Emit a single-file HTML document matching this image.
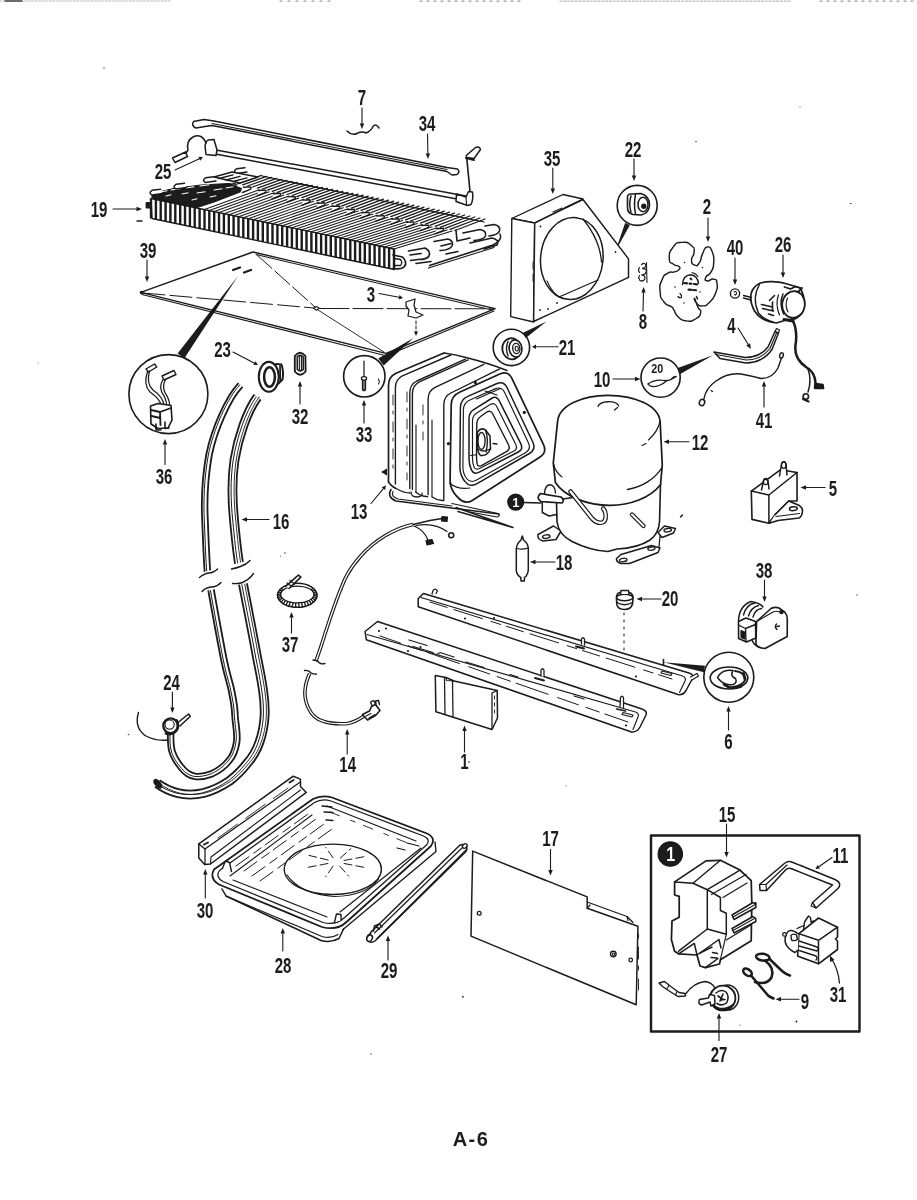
<!DOCTYPE html>
<html><head><meta charset="utf-8"><title>A-6</title>
<style>
html,body{margin:0;padding:0;background:#fff;}
body{width:917px;height:1200px;overflow:hidden;font-family:"Liberation Sans",sans-serif;}
svg{display:block;}
text{font-family:"Liberation Sans",sans-serif;}
</style></head><body>
<svg width="917" height="1200" viewBox="0 0 917 1200" stroke-linecap="round" stroke-linejoin="round">
<defs><filter id="soft" x="0" y="0" width="917" height="1200" filterUnits="userSpaceOnUse"><feGaussianBlur stdDeviation="0.38"/></filter></defs>
<rect width="917" height="1200" fill="#ffffff"/>
<g filter="url(#soft)">
<line x1="0" y1="1.0" x2="170" y2="1.0" stroke="#bbb" stroke-width="1.1" stroke-dasharray="2 1.5"/>
<line x1="5" y1="1" x2="22" y2="1" stroke="#444" stroke-width="1.4"/>
<line x1="280" y1="1.2" x2="330" y2="1.2" stroke="#999" stroke-width="1.2" stroke-dasharray="2 6"/>
<line x1="420" y1="1.2" x2="520" y2="1.2" stroke="#999" stroke-width="1.2" stroke-dasharray="2 5"/>
<line x1="560" y1="1.2" x2="790" y2="1.2" stroke="#bbb" stroke-width="1.2" stroke-dasharray="2 1.8"/>
<line x1="820" y1="1.2" x2="917" y2="1.2" stroke="#999" stroke-width="1.2" stroke-dasharray="2 5"/>
<text transform="translate(362.0,105.3) scale(0.7,1)" text-anchor="middle" font-size="21.5" font-weight="bold" fill="#1a1a1a">7</text>
<line x1="362.0" y1="108.0" x2="362.0" y2="123.5" stroke="#1a1a1a" stroke-width="1.1"/>
<polygon points="362.0,129.0 359.8,123.5 364.2,123.5" fill="#1a1a1a"/>
<text transform="translate(427.0,131.3) scale(0.7,1)" text-anchor="middle" font-size="21.5" font-weight="bold" fill="#1a1a1a">34</text>
<line x1="427.5" y1="134.0" x2="427.9" y2="153.5" stroke="#1a1a1a" stroke-width="1.1"/>
<polygon points="428.0,159.0 425.7,153.5 430.1,153.5" fill="#1a1a1a"/>
<text transform="translate(163.0,179.3) scale(0.7,1)" text-anchor="middle" font-size="21.5" font-weight="bold" fill="#1a1a1a">25</text>
<line x1="175.0" y1="170.0" x2="199.4" y2="158.7" stroke="#1a1a1a" stroke-width="1.1"/>
<polygon points="203.0,157.0 200.3,160.7 198.4,156.7" fill="#1a1a1a"/>
<text transform="translate(99.0,217.3) scale(0.7,1)" text-anchor="middle" font-size="21.5" font-weight="bold" fill="#1a1a1a">19</text>
<line x1="113.0" y1="209.0" x2="136.5" y2="209.0" stroke="#1a1a1a" stroke-width="1.1"/>
<polygon points="142.0,209.0 136.5,211.2 136.5,206.8" fill="#1a1a1a"/>
<line x1="137" y1="221" x2="142" y2="221" stroke="#1a1a1a" stroke-width="1.4"/>
<text transform="translate(148.0,257.8) scale(0.7,1)" text-anchor="middle" font-size="21.5" font-weight="bold" fill="#1a1a1a">39</text>
<line x1="147.0" y1="260.0" x2="147.0" y2="276.5" stroke="#1a1a1a" stroke-width="1.1"/>
<polygon points="147.0,282.0 144.8,276.5 149.2,276.5" fill="#1a1a1a"/>
<text transform="translate(552.0,165.8) scale(0.7,1)" text-anchor="middle" font-size="21.5" font-weight="bold" fill="#1a1a1a">35</text>
<line x1="552.8" y1="168.0" x2="552.8" y2="188.5" stroke="#1a1a1a" stroke-width="1.1"/>
<polygon points="552.8,194.0 550.6,188.5 555.0,188.5" fill="#1a1a1a"/>
<text transform="translate(633.0,157.3) scale(0.7,1)" text-anchor="middle" font-size="21.5" font-weight="bold" fill="#1a1a1a">22</text>
<line x1="634.0" y1="159.0" x2="634.0" y2="175.5" stroke="#1a1a1a" stroke-width="1.1"/>
<polygon points="634.0,181.0 631.8,175.5 636.2,175.5" fill="#1a1a1a"/>
<text transform="translate(707.0,214.3) scale(0.7,1)" text-anchor="middle" font-size="21.5" font-weight="bold" fill="#1a1a1a">2</text>
<line x1="708.0" y1="218.0" x2="708.0" y2="236.5" stroke="#1a1a1a" stroke-width="1.1"/>
<polygon points="708.0,242.0 705.8,236.5 710.2,236.5" fill="#1a1a1a"/>
<text transform="translate(735.0,254.8) scale(0.7,1)" text-anchor="middle" font-size="21.5" font-weight="bold" fill="#1a1a1a">40</text>
<line x1="735.0" y1="258.0" x2="735.0" y2="279.5" stroke="#1a1a1a" stroke-width="1.1"/>
<polygon points="735.0,285.0 732.8,279.5 737.2,279.5" fill="#1a1a1a"/>
<text transform="translate(783.0,252.3) scale(0.7,1)" text-anchor="middle" font-size="21.5" font-weight="bold" fill="#1a1a1a">26</text>
<line x1="783.0" y1="255.0" x2="783.0" y2="272.5" stroke="#1a1a1a" stroke-width="1.1"/>
<polygon points="783.0,278.0 780.8,272.5 785.2,272.5" fill="#1a1a1a"/>
<text transform="translate(643.0,329.3) scale(0.7,1)" text-anchor="middle" font-size="21.5" font-weight="bold" fill="#1a1a1a">8</text>
<line x1="643.0" y1="311.0" x2="643.5" y2="292.5" stroke="#1a1a1a" stroke-width="1.1"/>
<polygon points="643.6,287.0 645.7,292.6 641.3,292.4" fill="#1a1a1a"/>
<text transform="translate(567.0,355.3) scale(0.7,1)" text-anchor="middle" font-size="21.5" font-weight="bold" fill="#1a1a1a">21</text>
<line x1="558.0" y1="346.8" x2="536.0" y2="346.8" stroke="#1a1a1a" stroke-width="1.1" stroke-dasharray="3 1"/>
<polygon points="532.0,346.8 536.0,344.6 536.0,349.0" fill="#1a1a1a"/>
<text transform="translate(731.5,333.3) scale(0.7,1)" text-anchor="middle" font-size="21.5" font-weight="bold" fill="#1a1a1a">4</text>
<line x1="738.0" y1="328.0" x2="748.1" y2="344.3" stroke="#1a1a1a" stroke-width="1.1"/>
<polygon points="751.0,349.0 746.2,345.5 750.0,343.2" fill="#1a1a1a"/>
<text transform="translate(602.0,387.3) scale(0.7,1)" text-anchor="middle" font-size="21.5" font-weight="bold" fill="#1a1a1a">10</text>
<line x1="613.0" y1="379.0" x2="635.0" y2="379.0" stroke="#1a1a1a" stroke-width="1.1"/>
<polygon points="640.5,379.0 635.0,381.2 635.0,376.8" fill="#1a1a1a"/>
<text transform="translate(764.0,427.8) scale(0.7,1)" text-anchor="middle" font-size="21.5" font-weight="bold" fill="#1a1a1a">41</text>
<line x1="764.0" y1="407.0" x2="764.0" y2="386.5" stroke="#1a1a1a" stroke-width="1.1"/>
<polygon points="764.0,381.0 766.2,386.5 761.8,386.5" fill="#1a1a1a"/>
<text transform="translate(700.0,450.0) scale(0.7,1)" text-anchor="middle" font-size="21.5" font-weight="bold" fill="#1a1a1a">12</text>
<line x1="689.0" y1="441.7" x2="669.0" y2="441.7" stroke="#1a1a1a" stroke-width="1.1"/>
<polygon points="663.5,441.7 669.0,439.5 669.0,443.9" fill="#1a1a1a"/>
<text transform="translate(833.0,495.8) scale(0.7,1)" text-anchor="middle" font-size="21.5" font-weight="bold" fill="#1a1a1a">5</text>
<line x1="825.0" y1="487.5" x2="806.0" y2="487.5" stroke="#1a1a1a" stroke-width="1.1"/>
<polygon points="800.5,487.5 806.0,485.3 806.0,489.7" fill="#1a1a1a"/>
<text transform="translate(222.5,357.3) scale(0.7,1)" text-anchor="middle" font-size="21.5" font-weight="bold" fill="#1a1a1a">23</text>
<line x1="233.0" y1="352.0" x2="254.5" y2="363.2" stroke="#1a1a1a" stroke-width="1.1"/>
<polygon points="258.0,365.0 253.4,365.1 255.5,361.2" fill="#1a1a1a"/>
<text transform="translate(300.0,423.9) scale(0.7,1)" text-anchor="middle" font-size="21.5" font-weight="bold" fill="#1a1a1a">32</text>
<line x1="300.0" y1="404.0" x2="300.0" y2="386.5" stroke="#1a1a1a" stroke-width="1.1"/>
<polygon points="300.0,381.0 302.2,386.5 297.8,386.5" fill="#1a1a1a"/>
<text transform="translate(364.0,442.3) scale(0.7,1)" text-anchor="middle" font-size="21.5" font-weight="bold" fill="#1a1a1a">33</text>
<line x1="364.0" y1="423.0" x2="364.0" y2="405.5" stroke="#1a1a1a" stroke-width="1.1"/>
<polygon points="364.0,400.0 366.2,405.5 361.8,405.5" fill="#1a1a1a"/>
<text transform="translate(164.0,484.3) scale(0.7,1)" text-anchor="middle" font-size="21.5" font-weight="bold" fill="#1a1a1a">36</text>
<line x1="165.0" y1="464.5" x2="165.0" y2="444.5" stroke="#1a1a1a" stroke-width="1.1"/>
<polygon points="165.0,439.0 167.2,444.5 162.8,444.5" fill="#1a1a1a"/>
<text transform="translate(359.0,519.3) scale(0.7,1)" text-anchor="middle" font-size="21.5" font-weight="bold" fill="#1a1a1a">13</text>
<line x1="371.0" y1="503.5" x2="383.4" y2="488.6" stroke="#1a1a1a" stroke-width="1.1"/>
<polygon points="386.0,485.5 385.1,490.0 381.7,487.2" fill="#1a1a1a"/>
<polygon points="381,472 387,468.5 387,475.5" fill="#1a1a1a"/>
<text transform="translate(281.0,529.1) scale(0.7,1)" text-anchor="middle" font-size="21.5" font-weight="bold" fill="#1a1a1a">16</text>
<line x1="269.0" y1="519.5" x2="247.0" y2="519.5" stroke="#1a1a1a" stroke-width="1.1"/>
<polygon points="241.5,519.5 247.0,517.3 247.0,521.7" fill="#1a1a1a"/>
<text transform="translate(564.0,570.3) scale(0.7,1)" text-anchor="middle" font-size="21.5" font-weight="bold" fill="#1a1a1a">18</text>
<line x1="555.0" y1="562.0" x2="535.5" y2="562.0" stroke="#1a1a1a" stroke-width="1.1"/>
<polygon points="530.0,562.0 535.5,559.8 535.5,564.2" fill="#1a1a1a"/>
<text transform="translate(670.0,606.3) scale(0.7,1)" text-anchor="middle" font-size="21.5" font-weight="bold" fill="#1a1a1a">20</text>
<line x1="661.0" y1="599.0" x2="642.0" y2="599.0" stroke="#1a1a1a" stroke-width="1.1"/>
<polygon points="636.5,599.0 642.0,596.8 642.0,601.2" fill="#1a1a1a"/>
<text transform="translate(764.0,577.8) scale(0.7,1)" text-anchor="middle" font-size="21.5" font-weight="bold" fill="#1a1a1a">38</text>
<line x1="764.5" y1="580.0" x2="764.5" y2="596.5" stroke="#1a1a1a" stroke-width="1.1"/>
<polygon points="764.5,602.0 762.3,596.5 766.7,596.5" fill="#1a1a1a"/>
<text transform="translate(290.0,652.3) scale(0.7,1)" text-anchor="middle" font-size="21.5" font-weight="bold" fill="#1a1a1a">37</text>
<line x1="291.5" y1="633.0" x2="291.5" y2="617.5" stroke="#1a1a1a" stroke-width="1.1"/>
<polygon points="291.5,612.0 293.7,617.5 289.3,617.5" fill="#1a1a1a"/>
<text transform="translate(171.6,690.3) scale(0.7,1)" text-anchor="middle" font-size="21.5" font-weight="bold" fill="#1a1a1a">24</text>
<line x1="172.4" y1="692.0" x2="172.4" y2="707.5" stroke="#1a1a1a" stroke-width="1.1"/>
<polygon points="172.4,713.0 170.2,707.5 174.6,707.5" fill="#1a1a1a"/>
<text transform="translate(347.7,772.3) scale(0.7,1)" text-anchor="middle" font-size="21.5" font-weight="bold" fill="#1a1a1a">14</text>
<line x1="347.2" y1="754.0" x2="347.2" y2="734.5" stroke="#1a1a1a" stroke-width="1.1"/>
<polygon points="347.2,729.0 349.4,734.5 345.0,734.5" fill="#1a1a1a"/>
<text transform="translate(464.5,769.3) scale(0.7,1)" text-anchor="middle" font-size="21.5" font-weight="bold" fill="#1a1a1a">1</text>
<line x1="464.5" y1="752.0" x2="464.5" y2="731.0" stroke="#1a1a1a" stroke-width="1.1"/>
<polygon points="464.5,725.5 466.7,731.0 462.3,731.0" fill="#1a1a1a"/>
<text transform="translate(728.5,748.8) scale(0.7,1)" text-anchor="middle" font-size="21.5" font-weight="bold" fill="#1a1a1a">6</text>
<line x1="728.5" y1="730.0" x2="728.5" y2="711.5" stroke="#1a1a1a" stroke-width="1.1"/>
<polygon points="728.5,706.0 730.7,711.5 726.3,711.5" fill="#1a1a1a"/>
<text transform="translate(205.0,918.3) scale(0.7,1)" text-anchor="middle" font-size="21.5" font-weight="bold" fill="#1a1a1a">30</text>
<line x1="205.3" y1="898.0" x2="205.3" y2="874.5" stroke="#1a1a1a" stroke-width="1.1"/>
<polygon points="205.3,869.0 207.5,874.5 203.1,874.5" fill="#1a1a1a"/>
<text transform="translate(283.0,972.9) scale(0.7,1)" text-anchor="middle" font-size="21.5" font-weight="bold" fill="#1a1a1a">28</text>
<line x1="282.8" y1="951.0" x2="282.8" y2="933.5" stroke="#1a1a1a" stroke-width="1.1"/>
<polygon points="282.8,928.0 285.0,933.5 280.6,933.5" fill="#1a1a1a"/>
<text transform="translate(389.0,978.3) scale(0.7,1)" text-anchor="middle" font-size="21.5" font-weight="bold" fill="#1a1a1a">29</text>
<line x1="388.0" y1="960.0" x2="388.0" y2="941.0" stroke="#1a1a1a" stroke-width="1.1"/>
<polygon points="388.0,935.5 390.2,941.0 385.8,941.0" fill="#1a1a1a"/>
<text transform="translate(550.5,846.3) scale(0.7,1)" text-anchor="middle" font-size="21.5" font-weight="bold" fill="#1a1a1a">17</text>
<line x1="550.5" y1="849.5" x2="550.5" y2="870.0" stroke="#1a1a1a" stroke-width="1.1"/>
<polygon points="550.5,875.5 548.3,870.0 552.7,870.0" fill="#1a1a1a"/>
<text transform="translate(727.0,822.3) scale(0.7,1)" text-anchor="middle" font-size="21.5" font-weight="bold" fill="#1a1a1a">15</text>
<line x1="726.5" y1="824.0" x2="726.5" y2="852.0" stroke="#1a1a1a" stroke-width="1.1"/>
<polygon points="726.5,857.5 724.3,852.0 728.7,852.0" fill="#1a1a1a"/>
<text transform="translate(840.5,863.3) scale(0.7,1)" text-anchor="middle" font-size="21.5" font-weight="bold" fill="#1a1a1a">11</text>
<line x1="832.0" y1="857.5" x2="818.8" y2="866.7" stroke="#1a1a1a" stroke-width="1.1"/>
<polygon points="815.5,869.0 817.5,864.9 820.0,868.5" fill="#1a1a1a"/>
<text transform="translate(838.0,1002.3) scale(0.7,1)" text-anchor="middle" font-size="21.5" font-weight="bold" fill="#1a1a1a">31</text>
<path d="M839.5,983 Q838,968 831,958" fill="none" stroke="#1a1a1a" stroke-width="1.265" />
<polygon points="830,955.5 834.5,960 830,962" fill="#1a1a1a"/>
<text transform="translate(805.0,1008.8) scale(0.7,1)" text-anchor="middle" font-size="21.5" font-weight="bold" fill="#1a1a1a">9</text>
<line x1="799.0" y1="999.3" x2="781.0" y2="999.3" stroke="#1a1a1a" stroke-width="1.1"/>
<polygon points="775.5,999.3 781.0,997.1 781.0,1001.5" fill="#1a1a1a"/>
<text transform="translate(719.0,1062.3) scale(0.7,1)" text-anchor="middle" font-size="21.5" font-weight="bold" fill="#1a1a1a">27</text>
<line x1="719.0" y1="1040.5" x2="719.0" y2="1018.5" stroke="#1a1a1a" stroke-width="1.1"/>
<polygon points="719.0,1013.0 721.2,1018.5 716.8,1018.5" fill="#1a1a1a"/>
<text x="471" y="1146" text-anchor="middle" font-size="20" font-weight="bold" letter-spacing="1.5" fill="#1a1a1a">A-6</text>
<circle cx="168.4" cy="394.1" r="39.5" fill="none" stroke="#1a1a1a" stroke-width="1.6099999999999999"/>
<polygon points="238.0,276.0 177.6,353.4 184.4,358.2" fill="#1a1a1a"/>
<circle cx="364.3" cy="376.3" r="20.7" fill="none" stroke="#1a1a1a" stroke-width="1.6099999999999999"/>
<polygon points="413.5,338.0 378.3,358.4 383.7,365.6" fill="#1a1a1a"/>
<circle cx="637.2" cy="205.4" r="20" fill="none" stroke="#1a1a1a" stroke-width="1.6099999999999999"/>
<polygon points="615.5,251.0 629.9,225.1 625.1,222.9" fill="#1a1a1a"/>
<circle cx="511.4" cy="347.4" r="18.2" fill="none" stroke="#1a1a1a" stroke-width="1.6099999999999999"/>
<polygon points="546.5,321.5 522.6,333.1 525.8,338.1" fill="#1a1a1a"/>
<circle cx="660.6" cy="377.6" r="19.6" fill="none" stroke="#1a1a1a" stroke-width="1.6099999999999999"/>
<polygon points="713.0,355.3 677.7,368.1 680.3,373.9" fill="#1a1a1a"/>
<circle cx="728.8" cy="677.2" r="25" fill="none" stroke="#1a1a1a" stroke-width="1.6099999999999999"/>
<polygon points="663.6,662.2 704.0,672.2 705.0,665.8" fill="#1a1a1a"/>
<rect x="651" y="835.5" width="208.5" height="196" fill="none" stroke="#1a1a1a" stroke-width="2.4"/>
<circle cx="670.3" cy="854" r="12.2" fill="#1a1a1a" stroke="#1a1a1a" stroke-width="1.15"/>
<circle cx="515.7" cy="502.1" r="8" fill="#1a1a1a" stroke="#1a1a1a" stroke-width="1.15"/>
<line x1="523" y1="502.5" x2="541" y2="503" stroke="#1a1a1a" stroke-width="1.3"/>
<circle cx="104" cy="68" r="0.7" fill="#444"/>
<circle cx="696" cy="141.5" r="0.8" fill="#444"/>
<circle cx="850.8" cy="203.5" r="0.8" fill="#444"/>
<circle cx="800" cy="107" r="0.6" fill="#444"/>
<circle cx="285" cy="553" r="0.8" fill="#444"/>
<circle cx="128.4" cy="734.5" r="0.7" fill="#444"/>
<circle cx="462.9" cy="996.8" r="1.0" fill="#444"/>
<circle cx="371" cy="1054" r="0.7" fill="#444"/>
<circle cx="857" cy="595" r="0.7" fill="#444"/>
<circle cx="280.6" cy="556" r="0.6" fill="#444"/>
<circle cx="566" cy="786" r="0.6" fill="#444"/>
<circle cx="38" cy="363" r="0.5" fill="#444"/>
<circle cx="740" cy="1025" r="0.6" fill="#444"/>
<path d="M151.0,198.5 L237.0,171.0 L499.0,226.0 L394.0,249.0 Z" fill="#fff" stroke="#fff" stroke-width="0.11499999999999999" />
<line x1="237.6" y1="183.9" x2="261.5" y2="175.4" stroke="#1a1a1a" stroke-width="1.3"/>
<line x1="242.6" y1="184.9" x2="266.6" y2="176.4" stroke="#1a1a1a" stroke-width="1.3"/>
<line x1="247.5" y1="186.0" x2="271.6" y2="177.4" stroke="#1a1a1a" stroke-width="1.3"/>
<line x1="252.5" y1="187.0" x2="276.7" y2="178.4" stroke="#1a1a1a" stroke-width="1.3"/>
<line x1="257.4" y1="188.1" x2="281.8" y2="179.4" stroke="#1a1a1a" stroke-width="1.3"/>
<line x1="262.3" y1="189.2" x2="286.9" y2="180.4" stroke="#1a1a1a" stroke-width="1.3"/>
<line x1="267.3" y1="190.2" x2="292.0" y2="181.4" stroke="#1a1a1a" stroke-width="1.3"/>
<line x1="272.2" y1="191.3" x2="297.0" y2="182.4" stroke="#1a1a1a" stroke-width="1.3"/>
<line x1="277.2" y1="192.3" x2="302.1" y2="183.4" stroke="#1a1a1a" stroke-width="1.3"/>
<line x1="282.1" y1="193.4" x2="307.2" y2="184.3" stroke="#1a1a1a" stroke-width="1.3"/>
<line x1="287.0" y1="194.5" x2="312.3" y2="185.3" stroke="#1a1a1a" stroke-width="1.3"/>
<line x1="292.0" y1="195.5" x2="317.4" y2="186.3" stroke="#1a1a1a" stroke-width="1.3"/>
<line x1="296.9" y1="196.6" x2="322.4" y2="187.3" stroke="#1a1a1a" stroke-width="1.3"/>
<line x1="301.9" y1="197.6" x2="327.5" y2="188.3" stroke="#1a1a1a" stroke-width="1.3"/>
<line x1="306.8" y1="198.7" x2="332.6" y2="189.3" stroke="#1a1a1a" stroke-width="1.3"/>
<line x1="311.7" y1="199.8" x2="337.7" y2="190.3" stroke="#1a1a1a" stroke-width="1.3"/>
<line x1="316.7" y1="200.8" x2="342.8" y2="191.3" stroke="#1a1a1a" stroke-width="1.3"/>
<line x1="321.6" y1="201.9" x2="347.8" y2="192.3" stroke="#1a1a1a" stroke-width="1.3"/>
<line x1="326.6" y1="202.9" x2="352.9" y2="193.3" stroke="#1a1a1a" stroke-width="1.3"/>
<line x1="331.5" y1="204.0" x2="358.0" y2="194.2" stroke="#1a1a1a" stroke-width="1.3"/>
<line x1="336.4" y1="205.1" x2="363.1" y2="195.2" stroke="#1a1a1a" stroke-width="1.3"/>
<line x1="341.4" y1="206.1" x2="368.2" y2="196.2" stroke="#1a1a1a" stroke-width="1.3"/>
<line x1="346.3" y1="207.2" x2="373.2" y2="197.2" stroke="#1a1a1a" stroke-width="1.3"/>
<line x1="351.3" y1="208.2" x2="378.3" y2="198.2" stroke="#1a1a1a" stroke-width="1.3"/>
<line x1="356.2" y1="209.3" x2="383.4" y2="199.2" stroke="#1a1a1a" stroke-width="1.3"/>
<line x1="361.1" y1="210.4" x2="388.5" y2="200.2" stroke="#1a1a1a" stroke-width="1.3"/>
<line x1="366.1" y1="211.4" x2="393.6" y2="201.2" stroke="#1a1a1a" stroke-width="1.3"/>
<line x1="371.0" y1="212.5" x2="398.6" y2="202.2" stroke="#1a1a1a" stroke-width="1.3"/>
<line x1="376.0" y1="213.5" x2="403.7" y2="203.2" stroke="#1a1a1a" stroke-width="1.3"/>
<line x1="380.9" y1="214.6" x2="408.8" y2="204.2" stroke="#1a1a1a" stroke-width="1.3"/>
<line x1="385.8" y1="215.7" x2="413.9" y2="205.1" stroke="#1a1a1a" stroke-width="1.3"/>
<line x1="390.8" y1="216.7" x2="419.0" y2="206.1" stroke="#1a1a1a" stroke-width="1.3"/>
<line x1="395.7" y1="217.8" x2="424.0" y2="207.1" stroke="#1a1a1a" stroke-width="1.3"/>
<line x1="400.7" y1="218.8" x2="429.1" y2="208.1" stroke="#1a1a1a" stroke-width="1.3"/>
<line x1="405.6" y1="219.9" x2="434.2" y2="209.1" stroke="#1a1a1a" stroke-width="1.3"/>
<line x1="410.5" y1="221.0" x2="439.3" y2="210.1" stroke="#1a1a1a" stroke-width="1.3"/>
<line x1="415.5" y1="222.0" x2="444.4" y2="211.1" stroke="#1a1a1a" stroke-width="1.3"/>
<line x1="420.4" y1="223.1" x2="449.4" y2="212.1" stroke="#1a1a1a" stroke-width="1.3"/>
<line x1="425.4" y1="224.1" x2="454.5" y2="213.1" stroke="#1a1a1a" stroke-width="1.3"/>
<line x1="430.3" y1="225.2" x2="459.6" y2="214.0" stroke="#1a1a1a" stroke-width="1.3"/>
<line x1="435.2" y1="226.3" x2="464.7" y2="215.0" stroke="#1a1a1a" stroke-width="1.3"/>
<line x1="440.2" y1="227.3" x2="469.8" y2="216.0" stroke="#1a1a1a" stroke-width="1.3"/>
<line x1="445.1" y1="228.4" x2="474.8" y2="217.0" stroke="#1a1a1a" stroke-width="1.3"/>
<line x1="450.1" y1="229.4" x2="479.9" y2="218.0" stroke="#1a1a1a" stroke-width="1.3"/>
<line x1="455.0" y1="230.5" x2="485.0" y2="219.0" stroke="#1a1a1a" stroke-width="1.3"/>
<path d="M227.6,189.4 L233.6,187.0 q4,-1.4 2,-3.2 l-7,0.4" fill="#fff" stroke="#1a1a1a" stroke-width="1.38" />
<path d="M242.5,192.5 L248.5,190.1 q4,-1.4 2,-3.2 l-7,0.4" fill="#fff" stroke="#1a1a1a" stroke-width="1.38" />
<line x1="204.5" y1="209.6" x2="259.3" y2="189.7" stroke="#1a1a1a" stroke-width="1.05"/>
<line x1="209.3" y1="210.6" x2="264.3" y2="190.7" stroke="#1a1a1a" stroke-width="1.05"/>
<path d="M257.3,195.7 L263.3,193.3 q4,-1.4 2,-3.2 l-7,0.4" fill="#fff" stroke="#1a1a1a" stroke-width="1.38" />
<line x1="214.2" y1="211.6" x2="269.2" y2="191.8" stroke="#1a1a1a" stroke-width="1.05"/>
<line x1="219.0" y1="212.6" x2="274.2" y2="192.8" stroke="#1a1a1a" stroke-width="1.05"/>
<line x1="223.9" y1="213.7" x2="279.1" y2="193.9" stroke="#1a1a1a" stroke-width="1.05"/>
<path d="M272.1,198.9 L278.1,196.5 q4,-1.4 2,-3.2 l-7,0.4" fill="#fff" stroke="#1a1a1a" stroke-width="1.38" />
<line x1="228.8" y1="214.7" x2="284.0" y2="195.0" stroke="#1a1a1a" stroke-width="1.05"/>
<line x1="233.6" y1="215.7" x2="289.0" y2="196.0" stroke="#1a1a1a" stroke-width="1.05"/>
<line x1="238.5" y1="216.7" x2="293.9" y2="197.1" stroke="#1a1a1a" stroke-width="1.05"/>
<path d="M286.9,202.1 L292.9,199.7 q4,-1.4 2,-3.2 l-7,0.4" fill="#fff" stroke="#1a1a1a" stroke-width="1.38" />
<line x1="243.3" y1="217.7" x2="298.9" y2="198.1" stroke="#1a1a1a" stroke-width="1.05"/>
<line x1="248.2" y1="218.7" x2="303.8" y2="199.2" stroke="#1a1a1a" stroke-width="1.05"/>
<line x1="253.1" y1="219.7" x2="308.7" y2="200.3" stroke="#1a1a1a" stroke-width="1.05"/>
<path d="M301.7,205.3 L307.7,202.9 q4,-1.4 2,-3.2 l-7,0.4" fill="#fff" stroke="#1a1a1a" stroke-width="1.38" />
<line x1="257.9" y1="220.7" x2="313.7" y2="201.3" stroke="#1a1a1a" stroke-width="1.05"/>
<line x1="262.8" y1="221.7" x2="318.6" y2="202.4" stroke="#1a1a1a" stroke-width="1.05"/>
<line x1="267.6" y1="222.7" x2="323.6" y2="203.4" stroke="#1a1a1a" stroke-width="1.05"/>
<path d="M316.6,208.4 L322.6,206.0 q4,-1.4 2,-3.2 l-7,0.4" fill="#fff" stroke="#1a1a1a" stroke-width="1.38" />
<line x1="272.5" y1="223.8" x2="328.5" y2="204.5" stroke="#1a1a1a" stroke-width="1.05"/>
<line x1="277.4" y1="224.8" x2="333.4" y2="205.6" stroke="#1a1a1a" stroke-width="1.05"/>
<line x1="282.2" y1="225.8" x2="338.4" y2="206.6" stroke="#1a1a1a" stroke-width="1.05"/>
<path d="M331.4,211.6 L337.4,209.2 q4,-1.4 2,-3.2 l-7,0.4" fill="#fff" stroke="#1a1a1a" stroke-width="1.38" />
<line x1="287.1" y1="226.8" x2="343.3" y2="207.7" stroke="#1a1a1a" stroke-width="1.05"/>
<line x1="291.9" y1="227.8" x2="348.3" y2="208.7" stroke="#1a1a1a" stroke-width="1.05"/>
<line x1="296.8" y1="228.8" x2="353.2" y2="209.8" stroke="#1a1a1a" stroke-width="1.05"/>
<path d="M346.2,214.8 L352.2,212.4 q4,-1.4 2,-3.2 l-7,0.4" fill="#fff" stroke="#1a1a1a" stroke-width="1.38" />
<line x1="301.7" y1="229.8" x2="358.1" y2="210.9" stroke="#1a1a1a" stroke-width="1.05"/>
<line x1="306.5" y1="230.8" x2="363.1" y2="211.9" stroke="#1a1a1a" stroke-width="1.05"/>
<line x1="311.4" y1="231.8" x2="368.0" y2="213.0" stroke="#1a1a1a" stroke-width="1.05"/>
<path d="M361.0,218.0 L367.0,215.6 q4,-1.4 2,-3.2 l-7,0.4" fill="#fff" stroke="#1a1a1a" stroke-width="1.38" />
<line x1="316.2" y1="232.8" x2="373.0" y2="214.0" stroke="#1a1a1a" stroke-width="1.05"/>
<line x1="321.1" y1="233.8" x2="377.9" y2="215.1" stroke="#1a1a1a" stroke-width="1.05"/>
<line x1="326.0" y1="234.9" x2="382.8" y2="216.2" stroke="#1a1a1a" stroke-width="1.05"/>
<path d="M375.8,221.2 L381.8,218.8 q4,-1.4 2,-3.2 l-7,0.4" fill="#fff" stroke="#1a1a1a" stroke-width="1.38" />
<line x1="330.8" y1="235.9" x2="387.8" y2="217.2" stroke="#1a1a1a" stroke-width="1.05"/>
<line x1="335.7" y1="236.9" x2="392.7" y2="218.3" stroke="#1a1a1a" stroke-width="1.05"/>
<line x1="340.5" y1="237.9" x2="397.7" y2="219.3" stroke="#1a1a1a" stroke-width="1.05"/>
<path d="M390.7,224.3 L396.7,221.9 q4,-1.4 2,-3.2 l-7,0.4" fill="#fff" stroke="#1a1a1a" stroke-width="1.38" />
<line x1="345.4" y1="238.9" x2="402.6" y2="220.4" stroke="#1a1a1a" stroke-width="1.05"/>
<line x1="350.3" y1="239.9" x2="407.5" y2="221.5" stroke="#1a1a1a" stroke-width="1.05"/>
<line x1="355.1" y1="240.9" x2="412.5" y2="222.5" stroke="#1a1a1a" stroke-width="1.05"/>
<path d="M405.5,227.5 L411.5,225.1 q4,-1.4 2,-3.2 l-7,0.4" fill="#fff" stroke="#1a1a1a" stroke-width="1.38" />
<line x1="360.0" y1="241.9" x2="417.4" y2="223.6" stroke="#1a1a1a" stroke-width="1.05"/>
<line x1="364.8" y1="242.9" x2="422.4" y2="224.6" stroke="#1a1a1a" stroke-width="1.05"/>
<line x1="369.7" y1="243.9" x2="427.3" y2="225.7" stroke="#1a1a1a" stroke-width="1.05"/>
<path d="M420.3,230.7 L426.3,228.3 q4,-1.4 2,-3.2 l-7,0.4" fill="#fff" stroke="#1a1a1a" stroke-width="1.38" />
<line x1="374.6" y1="245.0" x2="432.2" y2="226.8" stroke="#1a1a1a" stroke-width="1.05"/>
<line x1="379.4" y1="246.0" x2="437.2" y2="227.8" stroke="#1a1a1a" stroke-width="1.05"/>
<line x1="384.3" y1="247.0" x2="442.1" y2="228.9" stroke="#1a1a1a" stroke-width="1.05"/>
<path d="M435.1,233.9 L441.1,231.5 q4,-1.4 2,-3.2 l-7,0.4" fill="#fff" stroke="#1a1a1a" stroke-width="1.38" />
<line x1="389.1" y1="248.0" x2="447.1" y2="229.9" stroke="#1a1a1a" stroke-width="1.05"/>
<line x1="394.0" y1="249.0" x2="452.0" y2="231.0" stroke="#1a1a1a" stroke-width="1.05"/>
<path d="M152.2,193.6 L173.6,188.5 L201.0,185.0 L228.5,183.5 L241.5,188.5 L240.0,192.0 L214.0,202.0 L197.0,207.5 L152.0,199.5 Z" fill="#1a1a1a" stroke="#1a1a1a" stroke-width="1.15" />
<line x1="160" y1="192" x2="167" y2="190.8" stroke="#fff" stroke-width="1.1"/>
<line x1="171" y1="190" x2="180" y2="188.8" stroke="#fff" stroke-width="1.1"/>
<line x1="186" y1="188" x2="194" y2="186.8" stroke="#fff" stroke-width="1.1"/>
<line x1="200" y1="186" x2="209" y2="184.8" stroke="#fff" stroke-width="1.1"/>
<line x1="182" y1="194" x2="188" y2="192.8" stroke="#fff" stroke-width="1.1"/>
<line x1="197" y1="193" x2="205" y2="191.8" stroke="#fff" stroke-width="1.1"/>
<line x1="214" y1="190" x2="222" y2="188.8" stroke="#fff" stroke-width="1.1"/>
<line x1="210" y1="197" x2="216" y2="195.8" stroke="#fff" stroke-width="1.1"/>
<line x1="226" y1="188" x2="233" y2="186.8" stroke="#fff" stroke-width="1.1"/>
<line x1="192" y1="200" x2="197" y2="198.8" stroke="#fff" stroke-width="1.1"/>
<line x1="166" y1="196" x2="171" y2="194.8" stroke="#fff" stroke-width="1.1"/>
<path d="M160.5,189.3 L152.0,190.3 Q148.0,192.8 152.0,195.1 L162.5,193.5" fill="#fff" stroke="#1a1a1a" stroke-width="1.4949999999999999" />
<path d="M184.5,183.3 L176.0,184.3 Q172.0,186.8 176.0,189.1 L186.5,187.5" fill="#fff" stroke="#1a1a1a" stroke-width="1.4949999999999999" />
<path d="M214,176.8 L205.5,177.8 Q201.5,180.3 205.5,182.6 L216,181" fill="#fff" stroke="#1a1a1a" stroke-width="1.4949999999999999" />
<path d="M245,167.8 L236.5,168.8 Q232.5,171.3 236.5,173.6 L247,172" fill="#fff" stroke="#1a1a1a" stroke-width="1.4949999999999999" />
<path d="M214,177 L232,172 L258,177 L240,183 Z" fill="#fff" stroke="#1a1a1a" stroke-width="1.38" />
<path d="M219,178.5 l14,-3.6 M226,180 l14,-3.6 M233,181.5 l14,-3.6" fill="none" stroke="#1a1a1a" stroke-width="1.4949999999999999" />
<path d="M151.0,198.5 L394.0,249.0 L394.5,269.5 L152.0,218.5 Z" fill="#fff" stroke="#1a1a1a" stroke-width="1.38" />
<line x1="151.0" y1="198.5" x2="151.0" y2="218.5" stroke="#1a1a1a" stroke-width="2.4" stroke-linecap="butt"/>
<line x1="155.9" y1="199.5" x2="155.9" y2="219.5" stroke="#1a1a1a" stroke-width="2.4" stroke-linecap="butt"/>
<line x1="160.7" y1="200.5" x2="160.7" y2="220.5" stroke="#1a1a1a" stroke-width="2.4" stroke-linecap="butt"/>
<line x1="165.6" y1="201.5" x2="165.6" y2="221.6" stroke="#1a1a1a" stroke-width="2.4" stroke-linecap="butt"/>
<line x1="170.4" y1="202.5" x2="170.4" y2="222.6" stroke="#1a1a1a" stroke-width="2.4" stroke-linecap="butt"/>
<line x1="175.3" y1="203.6" x2="175.3" y2="223.6" stroke="#1a1a1a" stroke-width="2.4" stroke-linecap="butt"/>
<line x1="180.2" y1="204.6" x2="180.2" y2="224.6" stroke="#1a1a1a" stroke-width="2.4" stroke-linecap="butt"/>
<line x1="185.0" y1="205.6" x2="185.0" y2="225.6" stroke="#1a1a1a" stroke-width="2.4" stroke-linecap="butt"/>
<line x1="189.9" y1="206.6" x2="189.9" y2="226.7" stroke="#1a1a1a" stroke-width="2.4" stroke-linecap="butt"/>
<line x1="194.7" y1="207.6" x2="194.7" y2="227.7" stroke="#1a1a1a" stroke-width="2.4" stroke-linecap="butt"/>
<line x1="199.6" y1="208.6" x2="199.6" y2="228.7" stroke="#1a1a1a" stroke-width="2.4" stroke-linecap="butt"/>
<line x1="204.5" y1="209.6" x2="204.5" y2="229.7" stroke="#1a1a1a" stroke-width="2.4" stroke-linecap="butt"/>
<line x1="209.3" y1="210.6" x2="209.3" y2="230.7" stroke="#1a1a1a" stroke-width="2.4" stroke-linecap="butt"/>
<line x1="214.2" y1="211.6" x2="214.2" y2="231.8" stroke="#1a1a1a" stroke-width="2.4" stroke-linecap="butt"/>
<line x1="219.0" y1="212.6" x2="219.0" y2="232.8" stroke="#1a1a1a" stroke-width="2.4" stroke-linecap="butt"/>
<line x1="223.9" y1="213.7" x2="223.9" y2="233.8" stroke="#1a1a1a" stroke-width="2.4" stroke-linecap="butt"/>
<line x1="228.8" y1="214.7" x2="228.8" y2="234.8" stroke="#1a1a1a" stroke-width="2.4" stroke-linecap="butt"/>
<line x1="233.6" y1="215.7" x2="233.6" y2="235.8" stroke="#1a1a1a" stroke-width="2.4" stroke-linecap="butt"/>
<line x1="238.5" y1="216.7" x2="238.5" y2="236.9" stroke="#1a1a1a" stroke-width="2.4" stroke-linecap="butt"/>
<line x1="243.3" y1="217.7" x2="243.3" y2="237.9" stroke="#1a1a1a" stroke-width="2.4" stroke-linecap="butt"/>
<line x1="248.2" y1="218.7" x2="248.2" y2="238.9" stroke="#1a1a1a" stroke-width="2.4" stroke-linecap="butt"/>
<line x1="253.1" y1="219.7" x2="253.1" y2="239.9" stroke="#1a1a1a" stroke-width="2.4" stroke-linecap="butt"/>
<line x1="257.9" y1="220.7" x2="257.9" y2="240.9" stroke="#1a1a1a" stroke-width="2.4" stroke-linecap="butt"/>
<line x1="262.8" y1="221.7" x2="262.8" y2="242.0" stroke="#1a1a1a" stroke-width="2.4" stroke-linecap="butt"/>
<line x1="267.6" y1="222.7" x2="267.6" y2="243.0" stroke="#1a1a1a" stroke-width="2.4" stroke-linecap="butt"/>
<line x1="272.5" y1="223.8" x2="272.5" y2="244.0" stroke="#1a1a1a" stroke-width="2.4" stroke-linecap="butt"/>
<line x1="277.4" y1="224.8" x2="277.4" y2="245.0" stroke="#1a1a1a" stroke-width="2.4" stroke-linecap="butt"/>
<line x1="282.2" y1="225.8" x2="282.2" y2="246.0" stroke="#1a1a1a" stroke-width="2.4" stroke-linecap="butt"/>
<line x1="287.1" y1="226.8" x2="287.1" y2="247.1" stroke="#1a1a1a" stroke-width="2.4" stroke-linecap="butt"/>
<line x1="291.9" y1="227.8" x2="291.9" y2="248.1" stroke="#1a1a1a" stroke-width="2.4" stroke-linecap="butt"/>
<line x1="296.8" y1="228.8" x2="296.8" y2="249.1" stroke="#1a1a1a" stroke-width="2.4" stroke-linecap="butt"/>
<line x1="301.7" y1="229.8" x2="301.7" y2="250.1" stroke="#1a1a1a" stroke-width="2.4" stroke-linecap="butt"/>
<line x1="306.5" y1="230.8" x2="306.5" y2="251.1" stroke="#1a1a1a" stroke-width="2.4" stroke-linecap="butt"/>
<line x1="311.4" y1="231.8" x2="311.4" y2="252.2" stroke="#1a1a1a" stroke-width="2.4" stroke-linecap="butt"/>
<line x1="316.2" y1="232.8" x2="316.2" y2="253.2" stroke="#1a1a1a" stroke-width="2.4" stroke-linecap="butt"/>
<line x1="321.1" y1="233.8" x2="321.1" y2="254.2" stroke="#1a1a1a" stroke-width="2.4" stroke-linecap="butt"/>
<line x1="326.0" y1="234.9" x2="326.0" y2="255.2" stroke="#1a1a1a" stroke-width="2.4" stroke-linecap="butt"/>
<line x1="330.8" y1="235.9" x2="330.8" y2="256.2" stroke="#1a1a1a" stroke-width="2.4" stroke-linecap="butt"/>
<line x1="335.7" y1="236.9" x2="335.7" y2="257.3" stroke="#1a1a1a" stroke-width="2.4" stroke-linecap="butt"/>
<line x1="340.5" y1="237.9" x2="340.5" y2="258.3" stroke="#1a1a1a" stroke-width="2.4" stroke-linecap="butt"/>
<line x1="345.4" y1="238.9" x2="345.4" y2="259.3" stroke="#1a1a1a" stroke-width="2.4" stroke-linecap="butt"/>
<line x1="350.3" y1="239.9" x2="350.3" y2="260.3" stroke="#1a1a1a" stroke-width="2.4" stroke-linecap="butt"/>
<line x1="355.1" y1="240.9" x2="355.1" y2="261.3" stroke="#1a1a1a" stroke-width="2.4" stroke-linecap="butt"/>
<line x1="360.0" y1="241.9" x2="360.0" y2="262.4" stroke="#1a1a1a" stroke-width="2.4" stroke-linecap="butt"/>
<line x1="364.8" y1="242.9" x2="364.8" y2="263.4" stroke="#1a1a1a" stroke-width="2.4" stroke-linecap="butt"/>
<line x1="369.7" y1="243.9" x2="369.7" y2="264.4" stroke="#1a1a1a" stroke-width="2.4" stroke-linecap="butt"/>
<line x1="374.6" y1="245.0" x2="374.6" y2="265.4" stroke="#1a1a1a" stroke-width="2.4" stroke-linecap="butt"/>
<line x1="379.4" y1="246.0" x2="379.4" y2="266.4" stroke="#1a1a1a" stroke-width="2.4" stroke-linecap="butt"/>
<line x1="384.3" y1="247.0" x2="384.3" y2="267.5" stroke="#1a1a1a" stroke-width="2.4" stroke-linecap="butt"/>
<line x1="389.1" y1="248.0" x2="389.1" y2="268.5" stroke="#1a1a1a" stroke-width="2.4" stroke-linecap="butt"/>
<line x1="394.0" y1="249.0" x2="394.0" y2="269.5" stroke="#1a1a1a" stroke-width="2.4" stroke-linecap="butt"/>
<path d="M262.0,176.0 L484.0,222.0" fill="none" stroke="#1a1a1a" stroke-width="1.265" />
<path d="M151,203 l-4.5,0 l0,4.5 l4.5,0" fill="#1a1a1a" stroke="#1a1a1a" stroke-width="1.8399999999999999" />
<path d="M393,255 L402.5,257 Q407.5,262 404.5,266.5 Q401,270 393,268.5" fill="none" stroke="#1a1a1a" stroke-width="1.7249999999999999" />
<path d="M394,258.5 L400.5,259.5 Q403,262.5 400.5,265.5 L394,265.5" fill="none" stroke="#1a1a1a" stroke-width="1.265" />
<path d="M408.5,251 L425,248 Q431,251 429,256 Q427,259.5 418,259.5 L410.5,260.5" fill="none" stroke="#1a1a1a" stroke-width="1.6099999999999999" />
<path d="M410,255 L421,253.5 M416,263.5 L431,261.5" fill="none" stroke="#1a1a1a" stroke-width="1.6099999999999999" />
<path d="M434,241.5 L448,239 Q454,241 452,246 Q450,250 440,250.5" fill="none" stroke="#1a1a1a" stroke-width="1.6099999999999999" />
<path d="M441,246 L451,243.5 M446,254 L458,251.5" fill="none" stroke="#1a1a1a" stroke-width="1.4949999999999999" />
<path d="M456,230 L457,241 L470,238" fill="none" stroke="#1a1a1a" stroke-width="1.6099999999999999" />
<path d="M463,233 L480,229.5 Q487,231 485.5,236 Q484,239.5 474,240.5" fill="none" stroke="#1a1a1a" stroke-width="1.6099999999999999" />
<path d="M485,226 L494,224.5 Q501,226 499.5,231 Q498,235 489,236" fill="none" stroke="#1a1a1a" stroke-width="1.6099999999999999" />
<path d="M470,243 L492,238 Q500,240 497,245 L484,249" fill="none" stroke="#1a1a1a" stroke-width="1.4949999999999999" />
<path d="M429.5,265.5 L493,245 Q503,240 500,234" fill="none" stroke="#1a1a1a" stroke-width="1.4949999999999999" />
<path d="M428.5,268 L494,247.5" fill="none" stroke="#1a1a1a" stroke-width="1.265" />
<path d="M193.5,121.5 Q191,126 196,128 L205,126.5 L212,125.5 L447,171.5 L452,175 L457,174.5 Q460.5,171.5 457.5,169 L447,167.5 L214,121 L204,119.5 Z" fill="#fff" stroke="#1a1a1a" stroke-width="1.4949999999999999" />
<path d="M212,123.5 L447,169.5" fill="none" stroke="#1a1a1a" stroke-width="1.035" />
<path d="M216,150 L466,196 L465,200.5 L215.5,154 Z" fill="#fff" stroke="#1a1a1a" stroke-width="1.4949999999999999" />
<path d="M456.5,194 L466,197 L468.5,191.5 L472.5,192 Q473.5,200 471,204.5 L467.5,205.5 L456,201.5 Z" fill="#fff" stroke="#1a1a1a" stroke-width="1.4949999999999999" />
<path d="M466,197 L466.5,204.5" fill="none" stroke="#1a1a1a" stroke-width="1.15" />
<path d="M205.5,150 Q204,143 208,140 L214,139.5 L217,150 L216,155.5 L206,154.5 Z" fill="#fff" stroke="#1a1a1a" stroke-width="1.4949999999999999" />
<path d="M206,143 Q202,133 193,137 Q186,141 188,150 L186,153" fill="none" stroke="#1a1a1a" stroke-width="1.4949999999999999" />
<path d="M172.5,158 L185.5,152 L187.5,156.5 L175,162.5 Z" fill="#fff" stroke="#1a1a1a" stroke-width="1.4949999999999999" />
<path d="M470,191.5 L466.8,158.5" fill="none" stroke="#1a1a1a" stroke-width="1.6099999999999999" />
<path d="M466.3,155.5 L475.5,147.5 Q479.5,146 480.5,149.5 L474,158.5 L466.5,157.5 Z" fill="#fff" stroke="#1a1a1a" stroke-width="1.4949999999999999" />
<path d="M466,158 l8,2" fill="none" stroke="#1a1a1a" stroke-width="1.8399999999999999" />
<path d="M347,131 Q352,136 357,133.5 Q362,131 366,133 Q371,131 373,126.5 Q376,123 379,128" fill="none" stroke="#1a1a1a" stroke-width="1.4949999999999999" />
<path d="M140.7,292.3 L253.0,252.0 L495.2,308.7 L386.0,353.4 Z" fill="none" stroke="#1a1a1a" stroke-width="1.38" />
<path d="M142.0,294.5 L385.0,355.5" fill="none" stroke="#1a1a1a" stroke-width="1.15" />
<path d="M388.0,355.0 L494.0,311.0" fill="none" stroke="#1a1a1a" stroke-width="1.15" />
<path d="M256.0,254.5 L492.0,310.0" fill="none" stroke="#1a1a1a" stroke-width="1.035" />
<line x1="143" y1="293" x2="314" y2="308" stroke="#1a1a1a" stroke-width="1" stroke-dasharray="22 5"/>
<line x1="319" y1="308.5" x2="493" y2="308.8" stroke="#1a1a1a" stroke-width="1" stroke-dasharray="30 4"/>
<line x1="257" y1="255" x2="315" y2="307" stroke="#1a1a1a" stroke-width="1" stroke-dasharray="20 4"/>
<line x1="318" y1="310" x2="384" y2="352" stroke="#1a1a1a" stroke-width="0.9"/>
<path d="M313.5,308.3 L316.4,306.5 L319.3,308.3 L316.4,310.2 Z" fill="#fff" stroke="#1a1a1a" stroke-width="1.15" />
<line x1="233" y1="270" x2="240" y2="267.5" stroke="#1a1a1a" stroke-width="2.2"/>
<line x1="244" y1="272.5" x2="251" y2="270" stroke="#1a1a1a" stroke-width="2.2"/>
<path d="M406,302 L412,300 L415,299 L414,305 L416,312 L423,315 L416,318 L408,316 L409,310 L406,306 Z" fill="#fff" stroke="#1a1a1a" stroke-width="1.265" />
<line x1="416" y1="321" x2="416" y2="333" stroke="#1a1a1a" stroke-width="1" stroke-dasharray="3 2"/>
<polygon points="416,336 414,331.5 418,331.5" fill="#1a1a1a"/>
<line x1="379.0" y1="293.5" x2="399.1" y2="297.3" stroke="#1a1a1a" stroke-width="1.1"/>
<polygon points="403.0,298.0 398.7,299.4 399.5,295.1" fill="#1a1a1a"/>
<text transform="translate(371.0,301.8) scale(0.7,1)" text-anchor="middle" font-size="21.5" font-weight="bold" fill="#1a1a1a">3</text>
<circle cx="141.5" cy="292.5" r="1.8" fill="#1a1a1a"/>
<path d="M257.5,397 C247,411 238,438 234.5,460 C231.5,480 232,500 234,520 C236,540 237,552 239.5,566 L243,584 C248,610 253,635 257.5,660 C260,672 262,683 263,690 C264.5,700 265,708 264.6,716 C264,727 262,735 259.4,742.3 C256,752 252,758 247.2,763.3 C242,770 236,776 229.7,780.7 C222,786 213,790.5 203.5,793 C195,795 185,795 177.4,793 C170,791 163,787.5 157.3,783.4" fill="none" stroke="#1a1a1a" stroke-width="9.8" stroke-linecap="butt"/>
<path d="M257.5,397 C247,411 238,438 234.5,460 C231.5,480 232,500 234,520 C236,540 237,552 239.5,566 L243,584 C248,610 253,635 257.5,660 C260,672 262,683 263,690 C264.5,700 265,708 264.6,716 C264,727 262,735 259.4,742.3 C256,752 252,758 247.2,763.3 C242,770 236,776 229.7,780.7 C222,786 213,790.5 203.5,793 C195,795 185,795 177.4,793 C170,791 163,787.5 157.3,783.4" fill="none" stroke="#fff" stroke-width="6.200000000000001" stroke-linecap="butt"/>
<path d="M257.5,397 C247,411 238,438 234.5,460 C231.5,480 232,500 234,520 C236,540 237,552 239.5,566 L243,584 C248,610 253,635 257.5,660 C260,672 262,683 263,690 C264.5,700 265,708 264.6,716 C264,727 262,735 259.4,742.3 C256,752 252,758 247.2,763.3 C242,770 236,776 229.7,780.7 C222,786 213,790.5 203.5,793 C195,795 185,795 177.4,793 C170,791 163,787.5 157.3,783.4" fill="none" stroke="#1a1a1a" stroke-width="1.0" stroke-linecap="butt" transform="translate(-1.3,0)"/>
<path d="M257.5,397 C247,411 238,438 234.5,460 C231.5,480 232,500 234,520 C236,540 237,552 239.5,566 L243,584 C248,610 253,635 257.5,660 C260,672 262,683 263,690 C264.5,700 265,708 264.6,716 C264,727 262,735 259.4,742.3 C256,752 252,758 247.2,763.3 C242,770 236,776 229.7,780.7 C222,786 213,790.5 203.5,793 C195,795 185,795 177.4,793 C170,791 163,787.5 157.3,783.4" fill="none" stroke="#1a1a1a" stroke-width="0.9" transform="translate(1.7,0)"/>
<path d="M240.5,385 C228,398 214,430 209,455 C205,478 204,500 205,520 C206,545 206.5,560 207.5,572 L210.5,587 C215,612 220,640 224,660 C227,675 230,683 231.4,690 C233.5,700 235,708 235,716 C236,728 238,735 236.5,743 C235,752 232,757 229.5,760 C224,767 218,771 212,773.7 C206,776 200,777 195,776.4 C189,775.5 184,771 181,767 C176,761 173.5,756 172,751 C170.5,745 170.5,740 170.7,733" fill="none" stroke="#1a1a1a" stroke-width="7.4" stroke-linecap="butt"/>
<path d="M240.5,385 C228,398 214,430 209,455 C205,478 204,500 205,520 C206,545 206.5,560 207.5,572 L210.5,587 C215,612 220,640 224,660 C227,675 230,683 231.4,690 C233.5,700 235,708 235,716 C236,728 238,735 236.5,743 C235,752 232,757 229.5,760 C224,767 218,771 212,773.7 C206,776 200,777 195,776.4 C189,775.5 184,771 181,767 C176,761 173.5,756 172,751 C170.5,745 170.5,740 170.7,733" fill="none" stroke="#fff" stroke-width="3.8000000000000003" stroke-linecap="butt"/>
<path d="M240.5,385 C228,398 214,430 209,455 C205,478 204,500 205,520 C206,545 206.5,560 207.5,572 L210.5,587 C215,612 220,640 224,660 C227,675 230,683 231.4,690 C233.5,700 235,708 235,716 C236,728 238,735 236.5,743 C235,752 232,757 229.5,760 C224,767 218,771 212,773.7 C206,776 200,777 195,776.4 C189,775.5 184,771 181,767 C176,761 173.5,756 172,751 C170.5,745 170.5,740 170.7,733" fill="none" stroke="#1a1a1a" stroke-width="1.0" stroke-linecap="butt" transform="translate(-0.7,0)"/>
<ellipse cx="157.8" cy="783.8" rx="2.4" ry="5" fill="#1a1a1a" stroke="#1a1a1a" stroke-width="1.38" transform="rotate(-40 157.8 783.8)"/>
<polygon points="196,574 250,560 254,582 200,592" fill="#fff"/>
<path d="M199.5,577.5 q5,-4 9,-4.5 q5,0 9,-4" fill="none" stroke="#1a1a1a" stroke-width="1.38" />
<path d="M202,591.5 q4,-4 9,-4.5 q6,0 10,-4.5" fill="none" stroke="#1a1a1a" stroke-width="1.38" />
<path d="M231.5,569 q5,-1 9,-2.5 q6,-2 9.5,-6" fill="none" stroke="#1a1a1a" stroke-width="1.38" />
<path d="M232.5,583.5 q6,0.5 10,-1 q7,-3 11,-9" fill="none" stroke="#1a1a1a" stroke-width="1.38" />
<path d="M146,369 L154.5,364 L156.8,367 L148.5,372 Z" fill="#fff" stroke="#1a1a1a" stroke-width="1.38" />
<path d="M162,376 L174,370.5 L176,374.5 L164,380 Z" fill="#fff" stroke="#1a1a1a" stroke-width="1.38" />
<path d="M147.5,371.5 Q143,385 150,392 Q160,399 161,405" fill="none" stroke="#1a1a1a" stroke-width="1.265" />
<path d="M149.5,371 Q146,384 153,390 Q163,397 164,405" fill="none" stroke="#1a1a1a" stroke-width="1.265" />
<path d="M163,379.5 Q158,388 164,396 Q167,402 166.5,406" fill="none" stroke="#1a1a1a" stroke-width="1.265" />
<path d="M165.5,379.5 Q161,388 167,396 Q170,402 169.5,406" fill="none" stroke="#1a1a1a" stroke-width="1.265" />
<path d="M150.5,406 L158,403.5 L171,405.5 L172,420 L168,428 L158,428.5 L151,424 Z" fill="#fff" stroke="#1a1a1a" stroke-width="1.6099999999999999" />
<path d="M151,410 L160,412 L171,408 M160,412 L160.5,425 M151.5,416 L160,418" fill="none" stroke="#1a1a1a" stroke-width="1.8399999999999999" />
<path d="M156,424 L156,430 L161,430 M165,422 L165,428.5 L169,428" fill="none" stroke="#1a1a1a" stroke-width="1.6099999999999999" />
<path d="M276,364 L281.5,364.5 Q284,372 282.5,379.5 L278.5,383.5" fill="none" stroke="#1a1a1a" stroke-width="1.9549999999999998" />
<path d="M280,366 L280.3,380" fill="none" stroke="#1a1a1a" stroke-width="1.7249999999999999" />
<ellipse cx="268.8" cy="376.8" rx="10" ry="14.9" fill="#fff" stroke="#1a1a1a" stroke-width="2.07"/>
<ellipse cx="269.5" cy="377" rx="5.4" ry="9.8" fill="none" stroke="#1a1a1a" stroke-width="2.53"/>
<path d="M294.8,356 Q300,349.5 305.4,356 L305.6,371.5 Q300.2,378 294.8,371.5 Z" fill="#fff" stroke="#1a1a1a" stroke-width="1.8399999999999999" />
<path d="M297.2,356.8 Q300.2,354 303.2,356.8 L303.3,369.5 Q300.3,372.2 297.3,369.5 Z" fill="none" stroke="#1a1a1a" stroke-width="1.4949999999999999" />
<path d="M299.3,356 L299.4,370.5 M301.4,356 L301.5,370.5" fill="none" stroke="#1a1a1a" stroke-width="1.15" />
<line x1="364" y1="361" x2="364" y2="391" stroke="#1a1a1a" stroke-width="1.2"/>
<ellipse cx="364" cy="378.5" rx="2.6" ry="1.8" fill="#fff" stroke="#1a1a1a" stroke-width="1.265"/>
<path d="M362.5,380 L362.5,390 L365.5,390 L365.5,380" fill="none" stroke="#1a1a1a" stroke-width="1.265" />
<path d="M378.5,379 q1.5,3 0,5" fill="none" stroke="#1a1a1a" stroke-width="1.035" />
<ellipse cx="297.3" cy="595.3" rx="19.8" ry="12.0" fill="none" stroke="#1a1a1a" stroke-width="1.4949999999999999"/>
<ellipse cx="297.3" cy="594.5" rx="16.6" ry="8.4" fill="none" stroke="#1a1a1a" stroke-width="1.265"/>
<line x1="313.4" y1="588.5" x2="311.1" y2="589.6" stroke="#1a1a1a" stroke-width="1.3"/>
<line x1="315.1" y1="590.3" x2="312.5" y2="590.9" stroke="#1a1a1a" stroke-width="1.3"/>
<line x1="316.2" y1="592.2" x2="313.5" y2="592.3" stroke="#1a1a1a" stroke-width="1.3"/>
<line x1="316.8" y1="594.3" x2="314.0" y2="593.8" stroke="#1a1a1a" stroke-width="1.3"/>
<line x1="316.8" y1="596.3" x2="314.0" y2="595.2" stroke="#1a1a1a" stroke-width="1.3"/>
<line x1="316.2" y1="598.4" x2="313.5" y2="596.7" stroke="#1a1a1a" stroke-width="1.3"/>
<line x1="315.1" y1="600.3" x2="312.5" y2="598.1" stroke="#1a1a1a" stroke-width="1.3"/>
<line x1="313.4" y1="602.1" x2="311.1" y2="599.4" stroke="#1a1a1a" stroke-width="1.3"/>
<line x1="311.2" y1="603.6" x2="309.2" y2="600.6" stroke="#1a1a1a" stroke-width="1.3"/>
<line x1="308.5" y1="605.0" x2="306.9" y2="601.5" stroke="#1a1a1a" stroke-width="1.3"/>
<line x1="305.6" y1="606.0" x2="304.4" y2="602.3" stroke="#1a1a1a" stroke-width="1.3"/>
<line x1="302.4" y1="606.7" x2="301.6" y2="602.8" stroke="#1a1a1a" stroke-width="1.3"/>
<line x1="299.0" y1="607.1" x2="298.8" y2="603.1" stroke="#1a1a1a" stroke-width="1.3"/>
<line x1="295.6" y1="607.1" x2="295.8" y2="603.1" stroke="#1a1a1a" stroke-width="1.3"/>
<line x1="292.2" y1="606.7" x2="293.0" y2="602.8" stroke="#1a1a1a" stroke-width="1.3"/>
<line x1="289.0" y1="606.0" x2="290.2" y2="602.3" stroke="#1a1a1a" stroke-width="1.3"/>
<line x1="286.1" y1="605.0" x2="287.7" y2="601.5" stroke="#1a1a1a" stroke-width="1.3"/>
<line x1="283.4" y1="603.6" x2="285.4" y2="600.6" stroke="#1a1a1a" stroke-width="1.3"/>
<line x1="281.2" y1="602.1" x2="283.5" y2="599.4" stroke="#1a1a1a" stroke-width="1.3"/>
<line x1="279.5" y1="600.3" x2="282.1" y2="598.1" stroke="#1a1a1a" stroke-width="1.3"/>
<line x1="278.4" y1="598.4" x2="281.1" y2="596.7" stroke="#1a1a1a" stroke-width="1.3"/>
<line x1="277.8" y1="596.3" x2="280.6" y2="595.2" stroke="#1a1a1a" stroke-width="1.3"/>
<line x1="277.8" y1="594.3" x2="280.6" y2="593.8" stroke="#1a1a1a" stroke-width="1.3"/>
<line x1="278.4" y1="592.2" x2="281.1" y2="592.3" stroke="#1a1a1a" stroke-width="1.3"/>
<line x1="279.5" y1="590.3" x2="282.1" y2="590.9" stroke="#1a1a1a" stroke-width="1.3"/>
<line x1="281.2" y1="588.5" x2="283.5" y2="589.6" stroke="#1a1a1a" stroke-width="1.3"/>
<path d="M285.5,586.5 L298.5,575 L300.8,577.2 L289,588.5" fill="#fff" stroke="#1a1a1a" stroke-width="1.6099999999999999" />
<path d="M287,583 L292,586.5 M290,580.5 L294.5,584" fill="none" stroke="#1a1a1a" stroke-width="1.265" />
<path d="M138.5,712.5 Q134,727 145,735.5 Q156,741.5 168,740" fill="none" stroke="#1a1a1a" stroke-width="1.38" />
<path d="M178,722.5 L188.5,714 L190.3,716.3 L180,726" fill="#fff" stroke="#1a1a1a" stroke-width="1.4949999999999999" />
<circle cx="170.7" cy="725.8" r="7.4" fill="#fff" stroke="#1a1a1a" stroke-width="2.3"/>
<circle cx="169.6" cy="724.6" r="4.6" fill="none" stroke="#1a1a1a" stroke-width="1.15"/>
<path d="M176.5,720.5 Q180,727 175,732 Q171,735 166,733.5" fill="none" stroke="#1a1a1a" stroke-width="2.76" />
<path d="M413,524.5 C395,528 375,540 360.7,556 C350,568 345,578 342.4,585 C334,605 328,625 324,637 C321,647 318,655 316,661" fill="none" stroke="#1a1a1a" stroke-width="3.6" stroke-linecap="butt"/>
<path d="M413,524.5 C395,528 375,540 360.7,556 C350,568 345,578 342.4,585 C334,605 328,625 324,637 C321,647 318,655 316,661" fill="none" stroke="#fff" stroke-width="1.3" stroke-linecap="butt"/>
<path d="M309.6,673.5 C304,686 303.5,698 308.3,707.7 C312,716 318,720 324,721.5 C332,724 340,724 347.6,723.5 C354,722.5 359,719.5 364,716" fill="none" stroke="#1a1a1a" stroke-width="3.6" stroke-linecap="butt"/>
<path d="M309.6,673.5 C304,686 303.5,698 308.3,707.7 C312,716 318,720 324,721.5 C332,724 340,724 347.6,723.5 C354,722.5 359,719.5 364,716" fill="none" stroke="#fff" stroke-width="1.3" stroke-linecap="butt"/>
<path d="M313,660 q4,0 6,2.5 q2,2 6,1" fill="none" stroke="#1a1a1a" stroke-width="1.38" />
<path d="M304.5,670.5 q4,-0.5 6,2 q2,2 6,1.5" fill="none" stroke="#1a1a1a" stroke-width="1.38" />
<path d="M362.5,714.5 L369.5,711 L371.5,706.5 L375.5,704.5 L380,710.5 L375.5,715.5 L367.5,720 Z" fill="#fff" stroke="#1a1a1a" stroke-width="1.6099999999999999" />
<path d="M372,705.5 L370.5,702 L373.5,700.5 L375.5,704 M376,704 L375.5,701 L378.5,700.5 L379.5,704.5" fill="none" stroke="#1a1a1a" stroke-width="1.38" />
<path d="M366,716 l5,-2.5 M369,718 l6,-3.5" fill="none" stroke="#1a1a1a" stroke-width="1.15" />
<path d="M413,524.5 L430,520.5 L442,518.5" fill="none" stroke="#1a1a1a" stroke-width="1.38" />
<path d="M442,516.5 l5.5,0.5 l-0.5,4.5 l-5.5,-0.5 z" fill="#1a1a1a" stroke="#1a1a1a" stroke-width="1.15" />
<path d="M414,526 Q424,530 428,540" fill="none" stroke="#1a1a1a" stroke-width="1.265" />
<path d="M426,540.5 l6,-1 l1.5,4 l-6.5,1.5 z" fill="#1a1a1a" stroke="#1a1a1a" stroke-width="1.15" />
<path d="M416,525.5 Q434,522 447,531.5" fill="none" stroke="#1a1a1a" stroke-width="1.265" />
<circle cx="451.2" cy="535.2" r="2.5" fill="none" stroke="#1a1a1a" stroke-width="1.4949999999999999"/>
<path d="M388.0,381.0 L393.0,372.0 L444.0,353.0 L508.0,370.0 L547.5,452.0 L536.0,468.0 L466.0,505.0 L447.0,501.0 L388.0,482.0 Z" fill="#fff" stroke="#fff" stroke-width="0.11499999999999999" />
<path d="M443.8,499.3 L443.8,405.0 Q443.8,396.5 450.8,393.0 L499.8,368.9" fill="none" stroke="#1a1a1a" stroke-width="1.38" />
<path d="M428.1,494.4 L428.1,399.4 Q428.1,390.9 435.1,387.4 L483.9,364.4" fill="none" stroke="#1a1a1a" stroke-width="1.38" />
<path d="M412.4,489.5 L412.4,393.9 Q412.4,385.4 419.4,381.9 L468.1,359.9" fill="none" stroke="#1a1a1a" stroke-width="1.38" />
<path d="M409.8,488.6 L409.8,393.0 Q409.8,384.5 416.8,381.0 L465.4,359.1" fill="none" stroke="#1a1a1a" stroke-width="1.38" />
<path d="M395.4,484.1 L395.4,387.9 Q395.4,379.4 402.4,375.9 L450.9,355.0" fill="none" stroke="#1a1a1a" stroke-width="1.38" />
<path d="M388.5,482.0 L388.5,385.5 Q388.5,377.0 395.5,373.5 L444.0,353.0" fill="none" stroke="#1a1a1a" stroke-width="1.6674999999999998" />
<path d="M416,425 L416,492 M432,420 L432,496.5" fill="none" stroke="#1a1a1a" stroke-width="1.15" />
<path d="M444,353 Q455,354.5 466,357.5 Q488,363 507,370.5" fill="none" stroke="#1a1a1a" stroke-width="1.4949999999999999" />
<path d="M388.4,482 Q392,487 396,488.5 M396,488.5 Q404,493 410,493 M415.6,492 Q422,497 427.6,496.5 M432,497 Q438,501 444,500.5" fill="none" stroke="#1a1a1a" stroke-width="1.38" />
<line x1="393" y1="395" x2="393" y2="470" stroke="#1a1a1a" stroke-width="0.9" stroke-dasharray="10 6 3 8"/>
<line x1="407" y1="392" x2="407" y2="480" stroke="#1a1a1a" stroke-width="0.9" stroke-dasharray="10 6 3 8"/>
<line x1="412.5" y1="400" x2="412.5" y2="420" stroke="#1a1a1a" stroke-width="0.9" stroke-dasharray="10 6 3 8"/>
<line x1="423" y1="405" x2="423" y2="440" stroke="#1a1a1a" stroke-width="0.9" stroke-dasharray="10 6 3 8"/>
<path d="M451.2,405.0 Q451.3,396.0 459.5,392.3 L499.8,374.0 Q508.0,370.3 511.9,378.4 L543.4,444.4 Q547.3,452.5 539.7,457.3 L472.6,500.2 Q465.0,505.0 458.8,498.4 L456.2,495.6 Q450.0,489.0 450.1,480.0 Z" fill="#fff" stroke="#1a1a1a" stroke-width="1.7249999999999999" />
<path d="M460.4,407.6 Q460.5,399.6 467.8,396.4 L496.4,383.7 Q503.7,380.5 507.1,387.7 L532.9,442.3 Q536.3,449.5 529.4,453.5 L476.6,483.8 Q469.7,487.8 464.9,481.4 L464.6,481.2 Q459.8,474.8 459.9,466.8 Z" fill="none" stroke="#1a1a1a" stroke-width="1.4949999999999999" />
<path d="M463.4,410.0 Q463.5,403.0 469.9,400.1 L495.1,388.9 Q501.5,386.0 504.5,392.3 L528.5,443.0 Q531.5,449.3 525.4,452.7 L476.6,480.1 Q470.5,483.5 466.6,478.5 L466.6,478.5 Q462.8,473.5 462.9,466.5 Z" fill="none" stroke="#1a1a1a" stroke-width="1.15" />
<path d="M469.0,418.4 Q469.0,412.4 474.1,409.3 L491.5,398.5 Q496.6,395.4 499.3,400.8 L520.9,443.8 Q523.6,449.2 518.3,452.0 L479.2,472.2 Q473.9,475.0 471.4,469.9 L471.4,469.9 Q469.0,464.8 469.0,458.8 Z" fill="none" stroke="#1a1a1a" stroke-width="1.4949999999999999" />
<path d="M472.5,420.5 Q472.5,415.5 476.8,412.9 L490.2,404.6 Q494.5,402.0 496.7,406.5 L515.8,444.5 Q518.0,449.0 513.5,451.3 L480.0,468.2 Q475.5,470.5 474.0,467.0 L474.0,467.0 Q472.5,463.5 472.5,458.5 Z" fill="none" stroke="#1a1a1a" stroke-width="1.15" />
<path d="M476.8,424.0 Q476.8,419.0 480.9,416.2 L486.4,412.3 Q490.5,409.5 492.8,414.0 L508.5,444.7 Q510.8,449.2 506.4,451.6 L482.4,465.1 Q478.0,467.5 477.2,464.2 L477.2,464.2 Q476.5,461.0 476.5,456.0 Z" fill="#fff" stroke="#1a1a1a" stroke-width="1.38" />
<path d="M449.5,483 Q458,490 470,488" fill="none" stroke="#1a1a1a" stroke-width="1.15" />
<path d="M476.5,399 l24,-10.5 M485,391 l12,4" fill="none" stroke="#1a1a1a" stroke-width="1.15" />
<path d="M477.5,432 Q481,427 485.5,430 L490,436 L490.5,449 Q487,456.5 480.5,455.5 Q477,452 477.5,445 Z" fill="#fff" stroke="#1a1a1a" stroke-width="1.4949999999999999" />
<ellipse cx="481.5" cy="441" rx="3.6" ry="8.5" fill="none" stroke="#1a1a1a" stroke-width="1.38"/>
<path d="M485.5,430 Q489,440 486,452 M478,449 Q483,453 490,449" fill="none" stroke="#1a1a1a" stroke-width="1.38" />
<path d="M493,443.5 l4,0.5" fill="none" stroke="#1a1a1a" stroke-width="1.265" />
<path d="M470.5,455.5 l6,-0.8" fill="none" stroke="#1a1a1a" stroke-width="1.15" />
<circle cx="475.4" cy="382.6" r="1.6" fill="#1a1a1a"/>
<circle cx="524.3" cy="412.4" r="1.6" fill="#1a1a1a"/>
<circle cx="448.4" cy="443.7" r="1.6" fill="#1a1a1a"/>
<path d="M391,489.5 Q386.5,497 396,501 L499,514" fill="none" stroke="#1a1a1a" stroke-width="1.4949999999999999" />
<path d="M393,491.5 Q390.5,496.5 398,499 L452,506" fill="none" stroke="#1a1a1a" stroke-width="1.15" />
<path d="M411,492 q0,5 6,5 q6,-0.5 5,-4" fill="none" stroke="#1a1a1a" stroke-width="1.265" />
<path d="M456,507.5 L513,527.5 L458,511.5" fill="none" stroke="#1a1a1a" stroke-width="1.38" />
<path d="M452,503.5 L498,513.5 Q501,516 497,517 L470,512" fill="none" stroke="#1a1a1a" stroke-width="1.265" />
<path d="M511.8,218.5 L563.0,194.5 L583.0,199.0 L534.7,223.0 Z" fill="#fff" stroke="#1a1a1a" stroke-width="1.38" />
<path d="M511.8,218.5 L534.7,223.0 L533.6,322.0 L510.7,316.7 Z" fill="#fff" stroke="#1a1a1a" stroke-width="1.38" />
<path d="M534.7,223.0 L583.0,199.5 L628.5,258.9 L628.5,277.4 L533.6,321.5 Z" fill="#fff" stroke="#1a1a1a" stroke-width="1.4949999999999999" />
<ellipse cx="571.8" cy="258.5" rx="31.2" ry="41" fill="none" stroke="#1a1a1a" stroke-width="1.4949999999999999" transform="rotate(6 571.8 258.5)"/>
<path d="M583,219 Q600,240 601.5,262 M559,297 L598,280 " fill="none" stroke="#1a1a1a" stroke-width="1.265" />
<path d="M547,281 Q553,295 562,298" fill="none" stroke="#1a1a1a" stroke-width="1.035" />
<circle cx="540.5" cy="226.5" r="0.9" fill="#1a1a1a"/>
<circle cx="557" cy="303" r="0.9" fill="#1a1a1a"/>
<circle cx="540" cy="310" r="0.9" fill="#1a1a1a"/>
<circle cx="548" cy="309" r="0.9" fill="#1a1a1a"/>
<circle cx="615.5" cy="252" r="0.9" fill="#1a1a1a"/>
<path d="M553,212 l9,-4 M565,207.5 l10,-4.5" fill="none" stroke="#1a1a1a" stroke-width="1.15" />
<line x1="533" y1="262" x2="533" y2="282" stroke="#1a1a1a" stroke-width="0.9" stroke-dasharray="7 5"/>
<path d="M627.5,198 Q627,193.5 632,194 L641,193.5 Q649.5,196 649.5,205 Q649,213.5 641,215 L633,214.5 Q627.5,213 627.5,208 Z" fill="#fff" stroke="#1a1a1a" stroke-width="1.6099999999999999" />
<ellipse cx="643" cy="204.5" rx="5" ry="7.3" fill="none" stroke="#1a1a1a" stroke-width="1.4949999999999999"/>
<circle cx="643.8" cy="206.3" r="2.0" fill="#1a1a1a" stroke="#1a1a1a" stroke-width="1.38"/>
<path d="M631,196 Q628.5,204 631,212 M635.5,194.5 Q633.5,204 635.5,214" fill="none" stroke="#1a1a1a" stroke-width="1.4949999999999999" />
<ellipse cx="511.5" cy="348.8" rx="9.2" ry="10.6" fill="#fff" stroke="#1a1a1a" stroke-width="1.8399999999999999" transform="rotate(-8 511.5 348.8)"/>
<ellipse cx="515.5" cy="348.5" rx="6.4" ry="8.6" fill="#fff" stroke="#1a1a1a" stroke-width="1.6099999999999999" transform="rotate(-8 515.5 348.5)"/>
<ellipse cx="516.3" cy="348.5" rx="3.6" ry="5.2" fill="none" stroke="#1a1a1a" stroke-width="1.38" transform="rotate(-8 516.3 348.5)"/>
<ellipse cx="516.8" cy="348.6" rx="1.6" ry="2.4" fill="none" stroke="#1a1a1a" stroke-width="1.15" transform="rotate(-8 516.8 348.6)"/>
<path d="M508,341.5 Q505,348.5 508,356" fill="none" stroke="#1a1a1a" stroke-width="1.38" />
<path d="M641.5,264.5 q3.5,-2.5 4.5,1 q-0.5,2.5 -3.5,3 q4.5,0 3.8,3.5 q-1,3 -4.5,3 q4,1 3,4 q-1.5,3 -5,1.5" fill="none" stroke="#1a1a1a" stroke-width="1.265" />
<path d="M639.5,267.5 q-2,2.5 0,5 M639.5,275.5 q-1.5,2 0,4" fill="none" stroke="#1a1a1a" stroke-width="1.15" />
<path d="M646.5,262.5 l0.5,20" fill="none" stroke="#1a1a1a" stroke-width="1.035" />
<path d="M669.3,258.8 C669.2,253.1 668.9,252.5 673.2,247.0 C677.5,241.5 676.2,242.8 682.3,242.4 C688.4,242.0 687.6,242.4 691.5,245.7 C695.4,249.0 694.1,247.4 694.1,252.2 C694.1,257.0 691.3,255.8 691.5,260.1 C691.7,264.4 692.2,264.2 694.8,265.1 C697.4,266.0 696.8,266.5 699.4,262.7 C702.0,258.9 700.0,258.8 702.6,253.6 C705.2,248.4 703.9,247.5 707.2,247.0 C710.5,246.5 710.2,247.0 712.4,252.2 C714.6,257.4 714.1,256.1 713.7,262.7 C713.3,269.3 713.7,267.1 711.1,271.9 C708.5,276.7 707.2,274.1 705.9,277.1 C704.6,280.1 704.6,280.3 707.2,281.0 C709.8,281.7 710.4,278.2 713.7,279.1 C717.0,280.0 716.3,279.1 717.0,283.7 C717.7,288.3 718.1,286.7 715.7,292.8 C713.3,298.9 714.4,297.6 709.8,302.0 C705.2,306.4 706.6,305.7 702.0,305.9 C697.4,306.1 698.5,305.0 696.1,302.6 C693.7,300.2 694.2,297.2 694.8,298.7 C695.4,300.2 696.0,302.6 698.0,307.2 C700.0,311.8 701.6,308.5 700.7,312.4 C699.8,316.3 700.2,316.2 695.4,319.0 C690.6,321.8 692.0,321.6 686.3,320.9 C680.6,320.2 682.6,320.7 678.4,317.0 C674.2,313.3 676.1,313.2 673.8,309.8 C671.5,306.4 674.8,309.4 671.5,306.8 C668.2,304.2 667.8,307.1 664.0,302.0 C660.2,296.9 660.7,298.9 660.1,291.5 C659.5,284.1 659.5,285.8 662.1,279.7 C664.7,273.6 663.8,275.8 667.9,273.2 C672.0,270.6 670.8,273.1 674.5,271.9 C678.2,270.7 677.5,271.3 679.0,269.5 C680.5,267.7 680.8,268.3 679.0,266.5 C677.2,264.7 676.7,266.8 673.5,264.2 C670.3,261.6 669.4,264.5 669.3,258.8 Z" fill="#fff" stroke="#1a1a1a" stroke-width="1.4375" />
<path d="M682.5,284.5 Q683,275.5 690.5,274.8 Q697.5,275.5 698.5,283.5" fill="none" stroke="#1a1a1a" stroke-width="1.38" />
<path d="M692,272.5 q4,1 6,4" fill="none" stroke="#1a1a1a" stroke-width="1.15" />
<path d="M684,283 l3,0.4 M689.5,283.6 l2,0.2 M694,284 l3,0.4 M688.5,289.6 l3,0.3 M693.5,290 l2.5,0.3 M690.5,278.5 l0.8,0.8" fill="none" stroke="#1a1a1a" stroke-width="2.07" />
<path d="M680,293.5 q2,1.5 1.5,4 q-2,1 -3.5,-1" fill="none" stroke="#1a1a1a" stroke-width="1.265" />
<path d="M696.5,296.5 l1,2.5" fill="none" stroke="#1a1a1a" stroke-width="1.4949999999999999" />
<circle cx="684.5" cy="262.5" r="0.8" fill="#1a1a1a"/>
<circle cx="702.5" cy="267.5" r="0.8" fill="#1a1a1a"/>
<circle cx="675" cy="287" r="0.8" fill="#1a1a1a"/>
<circle cx="684" cy="303" r="0.8" fill="#1a1a1a"/>
<circle cx="700" cy="292" r="0.8" fill="#1a1a1a"/>
<circle cx="735" cy="293.5" r="4.6" fill="#fff" stroke="#1a1a1a" stroke-width="1.38"/>
<path d="M734,292 q2.5,-1.5 2.5,1.5 q-1,2.5 -2,1" fill="none" stroke="#1a1a1a" stroke-width="1.15" />
<g transform="translate(-1.5,2)">
<path d="M762,281 Q775,277.5 792,283 L802,286 L803.5,290 Q808,299 803.5,311 Q797,319 789,317.5 L778,321 Q763,319.5 756,309 Q749.5,296 754,288 Q757,283 762,281 Z" fill="#fff" stroke="#1a1a1a" stroke-width="1.7249999999999999" />
<path d="M761,282.5 Q753,296 760,311 Q766,318 775,320" fill="none" stroke="#1a1a1a" stroke-width="1.265" />
<ellipse cx="795" cy="302.5" rx="11.3" ry="13.4" fill="#fff" stroke="#1a1a1a" stroke-width="1.8399999999999999" transform="rotate(8 795 302.5)"/>
<path d="M784.5,292 Q780.5,301 785,312" fill="none" stroke="#1a1a1a" stroke-width="1.4949999999999999" />
<path d="M780,293 Q776.5,302 781,313" fill="none" stroke="#1a1a1a" stroke-width="1.265" />
<path d="M789,296 Q786,303 789.5,310" fill="none" stroke="#1a1a1a" stroke-width="1.15" />
<path d="M745,293.5 L753,295.5 M745,296 L752.5,298" fill="none" stroke="#1a1a1a" stroke-width="1.38" />
<path d="M763,302.5 l11,2.5 M764,306.5 l11,2.5 M770,312 l5,1.5 M771,298.5 l5,-5 M774,300 l0,9" fill="none" stroke="#1a1a1a" stroke-width="1.6099999999999999" />
<path d="M786,285 l6,2 l5,-2.5 l4.5,1.5 M800,289.5 l3.5,-3.5" fill="none" stroke="#1a1a1a" stroke-width="1.8399999999999999" />
</g>
<path d="M792,319 Q798,330 795.5,345 Q794,359 806,367 Q815,372 815.5,383 L815,388" fill="none" stroke="#1a1a1a" stroke-width="2.53" />
<path d="M808,369 Q812,380 808,392" fill="none" stroke="#1a1a1a" stroke-width="1.4949999999999999" />
<path d="M816,383.5 l7,1 l0.5,4 l-7.5,0 z" fill="#1a1a1a" stroke="#1a1a1a" stroke-width="1.6099999999999999" />
<circle cx="805.8" cy="396.5" r="2.7" fill="none" stroke="#1a1a1a" stroke-width="1.6099999999999999"/>
<path d="M803,399 l5.5,2.5" fill="none" stroke="#1a1a1a" stroke-width="2.07" />
<path d="M784,319.5 l9,1.5" fill="none" stroke="#1a1a1a" stroke-width="2.9899999999999998" />
<path d="M714,352 L745,357.5 Q760,357.5 768,347 L775,331.5 L778.5,333 L772,349.5 Q763,362.5 746,363 L720,358.5 Z" fill="#fff" stroke="#1a1a1a" stroke-width="1.4949999999999999" />
<path d="M716,354.5 L746,360 Q761,360 770,348.5 L776.5,333" fill="none" stroke="#1a1a1a" stroke-width="1.15" />
<path d="M775,331.5 l1.5,-3 l3,1.5 l-1,3" fill="none" stroke="#1a1a1a" stroke-width="1.15" />
<text transform="translate(657.3,373.3) scale(0.9,1)" text-anchor="middle" font-size="12" font-weight="bold" fill="#1a1a1a">20</text>
<path d="M648,384 Q655,379 664,380.5 Q672,381 674,376.5" fill="none" stroke="#1a1a1a" stroke-width="1.265" />
<path d="M648,384 Q651,388.5 659,385.5 Q664,383.5 667,380.5" fill="none" stroke="#1a1a1a" stroke-width="1.265" />
<path d="M672,378.5 l4,-2" fill="none" stroke="#1a1a1a" stroke-width="1.6099999999999999" />
<path d="M704,398.5 Q706,388 716,381 Q728,372.5 741,374 Q752,376 761,378.5 Q772,379 778,368 L781.5,358" fill="none" stroke="#1a1a1a" stroke-width="1.38" />
<ellipse cx="702" cy="402.5" rx="2.6" ry="3.2" fill="none" stroke="#1a1a1a" stroke-width="1.4949999999999999" transform="rotate(20 702 402.5)"/>
<ellipse cx="781.5" cy="355.5" rx="1.8" ry="2.8" fill="none" stroke="#1a1a1a" stroke-width="1.38" transform="rotate(15 781.5 355.5)"/>
<path d="M711,390.5 l1.5,1" fill="none" stroke="#1a1a1a" stroke-width="1.15" />
<path d="M538,534.5 L553.5,526 L561,531 L556,539.5 L543,541 Q537,539 538,534.5 Z" fill="#fff" stroke="#1a1a1a" stroke-width="1.4949999999999999" />
<ellipse cx="546.3" cy="536.6" rx="3.8" ry="1.8" fill="none" stroke="#1a1a1a" stroke-width="1.38" transform="rotate(-8 546.3 536.6)"/>
<path d="M658,532.5 L664.5,526 L675.5,528.5 L673.5,533 L662,537.5 Z" fill="#fff" stroke="#1a1a1a" stroke-width="1.4949999999999999" />
<ellipse cx="667.7" cy="530.2" rx="3.8" ry="1.7" fill="none" stroke="#1a1a1a" stroke-width="1.38" transform="rotate(-8 667.7 530.2)"/>
<path d="M616.5,558.5 L621,554.5 L651.5,545.5 L660,548 L658,552.5 L629.5,563.5 L621,563.5 Q616,562 616.5,558.5 Z" fill="#fff" stroke="#1a1a1a" stroke-width="1.4949999999999999" />
<ellipse cx="623.2" cy="560" rx="3.8" ry="1.7" fill="none" stroke="#1a1a1a" stroke-width="1.38" transform="rotate(-8 623.2 560)"/>
<ellipse cx="651.4" cy="548.6" rx="3.6" ry="1.6" fill="none" stroke="#1a1a1a" stroke-width="1.38" transform="rotate(-8 651.4 548.6)"/>
<path d="M660,536 L659,547" fill="none" stroke="#1a1a1a" stroke-width="1.265" />
<path d="M556.5,500 L557,522 Q559,535 572,541.5 Q590,550.5 607.8,551.5 L617,549 Q638,548 650,540 Q658.5,534 659.5,522 L660.5,484 Z" fill="#fff" stroke="#1a1a1a" stroke-width="1.6099999999999999" />
<path d="M557.6,421.4 C559,405 583,395.3 607.8,395.3 C634,395.3 658.5,405 660.1,421.4 L662.3,465 L660.5,484.7 C650,498 630,505.4 610,505.4 C588,505.4 565,497 555.4,482.5 L553.3,462.9 Z" fill="#fff" stroke="#1a1a1a" stroke-width="1.7249999999999999" />
<path d="M627.4,489.5 C642,487 655,479 662,467.5" fill="none" stroke="#1a1a1a" stroke-width="1.38" />
<path d="M553.5,464 C555,470 558,474 562,477" fill="none" stroke="#1a1a1a" stroke-width="1.15" />
<path d="M598,406.5 C600,400.5 616,400 618.7,406" fill="none" stroke="#1a1a1a" stroke-width="1.265" />
<path d="M614.5,410 l3,-2.5" fill="none" stroke="#1a1a1a" stroke-width="1.265" />
<path d="M642,445.5 l4,-2 M648.5,440 C654,435 658.5,428 660,421.5" fill="none" stroke="#1a1a1a" stroke-width="1.15" />
<path d="M544.5,493.5 Q545,485 550,484.7 Q555,485 555.5,493" fill="#fff" stroke="#1a1a1a" stroke-width="1.38" />
<path d="M542.3,501 L542.3,512.5 L549,516 L556.5,514.5" fill="none" stroke="#1a1a1a" stroke-width="1.4949999999999999" />
<path d="M540.5,493.5 L561,497 Q565,500 562,503 L541,501.5 Q535.5,498 540.5,493.5 Z" fill="#fff" stroke="#1a1a1a" stroke-width="1.7249999999999999" />
<path d="M570.5,491.5 L592.5,519 Q598,524.5 603.5,522 Q607,519 605,511.5 L603.2,508.5" fill="none" stroke="#1a1a1a" stroke-width="4.6"/>
<path d="M570.5,491.5 L592.5,519 Q598,524.5 603.5,522 Q607,519 605,511.5 L603.2,508.5" fill="none" stroke="#fff" stroke-width="2.2"/>
<line x1="632" y1="514.5" x2="643.5" y2="526" stroke="#1a1a1a" stroke-width="4.4"/>
<line x1="632" y1="514.5" x2="643.5" y2="526" stroke="#fff" stroke-width="2.0"/>
<path d="M680.5,517 l2,-2" fill="none" stroke="#1a1a1a" stroke-width="1.38" />
<path d="M522.3,536 L523.5,540 Q528.5,544 528.3,549 L528.3,570 Q528,575 524.5,577.5 L524.3,581 L521,581 L520.8,577.5 Q516.5,575 516.3,570 L516.3,549 Q516.5,544 521,540 Z" fill="#fff" stroke="#1a1a1a" stroke-width="1.4949999999999999" />
<path d="M517,548.5 Q522,550 528,548" fill="none" stroke="#1a1a1a" stroke-width="1.15" />
<path d="M751.3,491.1 L780.3,469.8 L797.0,472.5 L797.1,501.0 L788.7,501.0 L775.0,514.8 L768.9,523.2 L752.0,519.4 Z" fill="#fff" stroke="#1a1a1a" stroke-width="1.6099999999999999" />
<path d="M751.3,491.1 L768.9,495.0 L797.0,472.5" fill="none" stroke="#1a1a1a" stroke-width="1.4949999999999999" />
<path d="M768.9,495.0 L768.9,523.2" fill="none" stroke="#1a1a1a" stroke-width="1.4949999999999999" />
<path d="M775,514.8 L788.7,501 L799.4,505.6 Q803,508 802.4,511.5 Q802,516.5 799,518 L778,520.5 L770,523" fill="#fff" stroke="#1a1a1a" stroke-width="1.6099999999999999" />
<path d="M776,516.5 L799.5,513.5" fill="none" stroke="#1a1a1a" stroke-width="1.15" />
<ellipse cx="793.3" cy="508.7" rx="3.9" ry="1.9" fill="none" stroke="#1a1a1a" stroke-width="1.4949999999999999" transform="rotate(-5 793.3 508.7)"/>
<path d="M761.5,490 L763.5,481 Q765.5,477.5 768,481 L769,489" fill="#fff" stroke="#1a1a1a" stroke-width="1.4949999999999999" />
<ellipse cx="765.7" cy="481.5" rx="2.3" ry="3.2" fill="none" stroke="#1a1a1a" stroke-width="1.265"/>
<path d="M779.5,476 L781.5,464 Q784,459.5 786,464 L787,475" fill="#fff" stroke="#1a1a1a" stroke-width="1.4949999999999999" />
<ellipse cx="783.7" cy="465" rx="2.2" ry="3.4" fill="none" stroke="#1a1a1a" stroke-width="1.265"/>
<path d="M616.5,598 Q616.3,593.5 620,592.5 L629.5,592.5 Q633.3,594 633,598.5 L632.5,604 Q631,609.5 624.5,609.5 Q617.5,609.5 616.8,604 Z" fill="#fff" stroke="#1a1a1a" stroke-width="1.6099999999999999" />
<ellipse cx="624.6" cy="597.5" rx="8.2" ry="3.2" fill="none" stroke="#1a1a1a" stroke-width="1.38"/>
<path d="M620.5,594 l0.5,-3.5 l7.5,0 l0.5,3.5" fill="#fff" stroke="#1a1a1a" stroke-width="1.4949999999999999" />
<path d="M617,602.5 Q624.5,607 632.5,602.5" fill="none" stroke="#1a1a1a" stroke-width="1.265" />
<line x1="624" y1="613" x2="624" y2="652" stroke="#1a1a1a" stroke-width="1" stroke-dasharray="2 5"/>
<path d="M738.5,621 Q739,606 751,601.5 Q760,603 763,607" fill="none" stroke="#1a1a1a" stroke-width="1.4949999999999999" />
<path d="M743.5,615 Q746,604.5 755,603 M748.5,616 Q751,607.5 758.5,605.5 M753,617 Q755,609.5 761.5,608.5" fill="none" stroke="#1a1a1a" stroke-width="1.38" />
<path d="M756.6,621.5 L771,608.5 Q775,606.5 779,608 L785,612.5 Q787.3,615 787.3,619 L787.2,636.5 L765,648.5 Q757,648 755.9,644 Z" fill="#fff" stroke="#1a1a1a" stroke-width="1.6099999999999999" />
<path d="M756.6,621.5 L773,612 Q778,610 782,613.5" fill="none" stroke="#1a1a1a" stroke-width="1.15" />
<path d="M752,640 Q754,646 760,647.5" fill="none" stroke="#1a1a1a" stroke-width="1.38" />
<path d="M776.5,624 q-2.5,3 0.5,5.5 M777,626.5 l2.5,-0.5" fill="none" stroke="#1a1a1a" stroke-width="1.38" />
<circle cx="781.5" cy="612" r="1.6" fill="#1a1a1a" stroke="#1a1a1a" stroke-width="1.15"/>
<path d="M738.5,621.5 L746,618 L755.5,621.5 L755.8,638 L746.5,642 L738.6,638.5 Z" fill="#fff" stroke="#1a1a1a" stroke-width="1.6099999999999999" />
<path d="M738.5,625 L745.5,628.5 L755.5,624.5 M745.5,628.5 L746,641.5" fill="none" stroke="#1a1a1a" stroke-width="1.38" />
<path d="M741,630.5 l0,7 l3.5,1.5 l0,-7 z" fill="#1a1a1a" stroke="#1a1a1a" stroke-width="1.15" />
<ellipse cx="729" cy="678" rx="18.8" ry="11" fill="none" stroke="#1a1a1a" stroke-width="1.6099999999999999"/>
<path d="M717.5,677.5 Q722,668.5 733,670.5 Q729.5,676 735.5,678.5 Q737.5,683 733,684.5 Q724,686.5 717.5,677.5 Z" fill="none" stroke="#1a1a1a" stroke-width="1.4949999999999999" />
<path d="M735,671 Q744,672 745.5,678.5 Q744,685.5 733,687" fill="none" stroke="#1a1a1a" stroke-width="1.8399999999999999" />
<path d="M724,684.5 Q731,690 741,686.5" fill="none" stroke="#1a1a1a" stroke-width="2.53" />
<path d="M743.5,673.5 l1.5,6" fill="none" stroke="#1a1a1a" stroke-width="2.76" />
<path d="M663.5,659.5 l0,5.5" fill="none" stroke="#1a1a1a" stroke-width="1.6099999999999999" />
<path d="M418.2,598.5 L423.5,593.5 L689,673 Q694,674.5 692.5,678.5 L686,690.5 Q683,695.5 678,694.5 L418.2,606.8 Z" fill="#fff" stroke="#1a1a1a" stroke-width="1.4949999999999999" />
<path d="M421,597.5 L682.5,676 Q686.5,677.5 685,681 L679.5,692.5" fill="none" stroke="#1a1a1a" stroke-width="1.15" />
<line x1="430" y1="602" x2="672" y2="679" stroke="#1a1a1a" stroke-width="1" stroke-dasharray="18 7 30 9 10 6"/>
<path d="M690.5,677 l6.5,-3.5 l1.5,2.5 l-6.5,4" fill="#fff" stroke="#1a1a1a" stroke-width="1.265" />
<path d="M432,594 l1,-3.5 q2.5,-3 4.5,0.5 l-1.5,2.5" fill="#fff" stroke="#1a1a1a" stroke-width="1.265" />
<path d="M581.5,644 l0,-5 q1.5,-2.5 3,0 l0,6" fill="#fff" stroke="#1a1a1a" stroke-width="1.265" />
<path d="M576,646.5 l8,2" fill="none" stroke="#1a1a1a" stroke-width="1.8399999999999999" />
<path d="M662,671 l10,2.5 l-1,2 l-10,-2.5 z" fill="none" stroke="#1a1a1a" stroke-width="1.15" />
<circle cx="465" cy="618.5" r="1.1" fill="#1a1a1a"/>
<circle cx="494" cy="618" r="1.1" fill="#1a1a1a"/>
<circle cx="636" cy="676.5" r="1.1" fill="#1a1a1a"/>
<path d="M365,631.5 L377.5,621.5 L642,709 Q647.5,711 646,715 L640,727 Q637,732.5 631.5,732 L366.4,639.8 Z" fill="#fff" stroke="#1a1a1a" stroke-width="1.4949999999999999" />
<path d="M367,634.5 L635.5,712 Q639.5,713.5 638,717 L633,729.5" fill="none" stroke="#1a1a1a" stroke-width="1.15" />
<line x1="380" y1="636" x2="628" y2="722" stroke="#1a1a1a" stroke-width="1" stroke-dasharray="22 8 14 6 34 10"/>
<path d="M409,640 l18,5.5 M413,646.5 l20,6 M440,652.5 l14,4.5 M466,662 l18,5.5 M510,674.5 l8,2.5 M574,696 l10,3" fill="none" stroke="#1a1a1a" stroke-width="1.265" />
<path d="M623,712.5 l10,2.5 l-1,2 l-10,-2.5 z" fill="none" stroke="#1a1a1a" stroke-width="1.15" />
<circle cx="379" cy="631" r="1.1" fill="#1a1a1a"/>
<circle cx="386" cy="628.5" r="1.1" fill="#1a1a1a"/>
<circle cx="408" cy="651" r="1.1" fill="#1a1a1a"/>
<circle cx="420.5" cy="647" r="1.1" fill="#1a1a1a"/>
<circle cx="438.5" cy="653.5" r="1.1" fill="#1a1a1a"/>
<circle cx="626" cy="725.5" r="1.1" fill="#1a1a1a"/>
<path d="M541,676 l0,-6 q1.5,-2.5 3,0 l0,7" fill="#fff" stroke="#1a1a1a" stroke-width="1.265" />
<path d="M535,678 l9,2.5" fill="none" stroke="#1a1a1a" stroke-width="1.8399999999999999" />
<path d="M620,707 l0.5,-9.5 q1.5,-2.5 3,0 l0,10" fill="#fff" stroke="#1a1a1a" stroke-width="1.265" />
<path d="M616.5,709 l9,2" fill="none" stroke="#1a1a1a" stroke-width="1.6099999999999999" />
<path d="M435.3,675.5 L446.0,677.5 L454.0,681.0 L497.2,690.5 L497.5,718.0 L492.0,729.5 L435.9,711.8 Z" fill="#fff" stroke="#1a1a1a" stroke-width="1.4949999999999999" />
<path d="M444.5,678 L445,714.5 M452.5,681.5 L453,717 M492,693 L492,729 M497.2,690.5 L492,693" fill="none" stroke="#1a1a1a" stroke-width="1.265" />
<path d="M446,677.5 L446.5,680.5 L454,681" fill="none" stroke="#1a1a1a" stroke-width="1.15" />
<line x1="494.5" y1="696" x2="494.5" y2="716" stroke="#1a1a1a" stroke-width="0.9" stroke-dasharray="3 4"/>
<circle cx="469" cy="762" r="0.8" fill="#1a1a1a"/>
<path d="M198.8,843.9 L293.2,776.2 L300.4,779.1 L300.5,786.5 L306.3,792.4 L210.5,864.0 L204.7,864.5 L198.8,858.0 Z" fill="#fff" stroke="#1a1a1a" stroke-width="1.4949999999999999" />
<path d="M198.8,843.9 L205.0,849.0 L300.4,782.0" fill="none" stroke="#1a1a1a" stroke-width="1.265" />
<path d="M205.0,849.0 L205.0,864.0" fill="none" stroke="#1a1a1a" stroke-width="1.265" />
<path d="M210.5,864.0 L211.0,857.0 L300.5,790.0" fill="none" stroke="#1a1a1a" stroke-width="1.15" />
<line x1="218" y1="838" x2="288" y2="788" stroke="#1a1a1a" stroke-width="0.9" stroke-dasharray="24 10"/>
<path d="M204,844.5 l4,-2 M289.5,782.5 l4,-2.5" fill="none" stroke="#1a1a1a" stroke-width="1.8399999999999999" />
<path d="M222,889 L226,896 L321,940.5 Q331,943 339,938.5 L343.5,929" fill="none" stroke="#1a1a1a" stroke-width="1.4949999999999999" />
<path d="M226,896 L322,936.5 Q331,939 338,934.5" fill="none" stroke="#1a1a1a" stroke-width="1.15" />
<path d="M343,929.5 L436,851.5 L435,842" fill="none" stroke="#1a1a1a" stroke-width="1.38" />
<path d="M313,799 Q322,794.5 332,797.5 L427,833.5 Q436.5,838 431,846 L346.5,922 Q337,931 322,927 L219,884.5 Q209,878.5 214,869.5 Z" fill="#fff" stroke="#1a1a1a" stroke-width="1.7249999999999999" />
<path d="M314.5,802.5 Q322,798 331,801 L423.5,836 Q431,839.5 426.5,845 L344,918 Q336,925.5 323,922.5 L223,881.5 Q215,877 219.5,870.5 Z" fill="none" stroke="#1a1a1a" stroke-width="1.265" />
<path d="M230,876 L312,815 M327,806 L416,841 M340,912 L421,848 M233,880 L327,917" fill="none" stroke="#1a1a1a" stroke-width="1.15" />
<line x1="236" y1="866" x2="308" y2="814" stroke="#1a1a1a" stroke-width="1" stroke-dasharray="16 6 9 5"/>
<line x1="244" y1="871" x2="316" y2="819" stroke="#1a1a1a" stroke-width="1" stroke-dasharray="16 6 9 5"/>
<line x1="252" y1="876" x2="324" y2="824" stroke="#1a1a1a" stroke-width="1" stroke-dasharray="16 6 9 5"/>
<line x1="260" y1="881" x2="332" y2="829" stroke="#1a1a1a" stroke-width="1" stroke-dasharray="16 6 9 5"/>
<line x1="330" y1="812" x2="415" y2="846" stroke="#1a1a1a" stroke-width="0.9" stroke-dasharray="10 12 5 9"/>
<path d="M322,806 l10,1 M324,812 l9,0.5 M326,820 l7,0.5 M397,848 l8,2 M407,843 l12,3" fill="none" stroke="#1a1a1a" stroke-width="1.265" />
<ellipse cx="332.8" cy="869.3" rx="48.6" ry="25.2" fill="none" stroke="#1a1a1a" stroke-width="1.38"/>
<path d="M287,875 Q300,894 334,896.5 Q366,896 378.5,879" fill="none" stroke="#1a1a1a" stroke-width="1.15" />
<line x1="344.1" y1="863.5" x2="364.0" y2="867.3" stroke="#1a1a1a" stroke-width="1" stroke-dasharray="8 4"/>
<line x1="339.7" y1="866.1" x2="348.6" y2="876.0" stroke="#1a1a1a" stroke-width="1" stroke-dasharray="8 4"/>
<line x1="333.0" y1="866.2" x2="325.8" y2="876.6" stroke="#1a1a1a" stroke-width="1" stroke-dasharray="8 4"/>
<line x1="327.9" y1="863.5" x2="308.0" y2="867.3" stroke="#1a1a1a" stroke-width="1" stroke-dasharray="8 4"/>
<line x1="328.2" y1="860.1" x2="309.0" y2="855.4" stroke="#1a1a1a" stroke-width="1" stroke-dasharray="8 4"/>
<line x1="333.0" y1="857.8" x2="325.8" y2="847.4" stroke="#1a1a1a" stroke-width="1" stroke-dasharray="8 4"/>
<line x1="340.3" y1="858.1" x2="350.9" y2="848.6" stroke="#1a1a1a" stroke-width="1" stroke-dasharray="8 4"/>
<line x1="344.1" y1="860.5" x2="364.0" y2="856.7" stroke="#1a1a1a" stroke-width="1" stroke-dasharray="8 4"/>
<path d="M222.5,868 l3,-7 l4,1.5 l2,9" fill="#fff" stroke="#1a1a1a" stroke-width="1.38" />
<path d="M334.5,922 l2,-8 l4.5,0.5 l0,6" fill="#fff" stroke="#1a1a1a" stroke-width="1.38" />
<path d="M371.5,931.5 L459.5,845.5 Q463,843.5 466,846 Q468,849 465.5,852 L375,941 Q370.5,944 367.5,940 Q366,936 370,934 Z" fill="#fff" stroke="#1a1a1a" stroke-width="1.4949999999999999" />
<path d="M374.5,933 L462.5,847.5 M377,938.5 L466,850" fill="none" stroke="#1a1a1a" stroke-width="1.15" />
<ellipse cx="369.6" cy="938.2" rx="2.6" ry="3.4" fill="#fff" stroke="#1a1a1a" stroke-width="1.4949999999999999" transform="rotate(30 369.6 938.2)"/>
<path d="M373.5,931 l1,-5 l5,-2 l2.5,3" fill="none" stroke="#1a1a1a" stroke-width="1.4949999999999999" />
<path d="M376.5,927 l3,2" fill="none" stroke="#1a1a1a" stroke-width="1.8399999999999999" />
<ellipse cx="464.8" cy="846" rx="2.6" ry="1.9" fill="#fff" stroke="#1a1a1a" stroke-width="1.38" transform="rotate(-40 464.8 846)"/>
<path d="M472.7,851.1 L587.2,896.9 L587.2,908.3 L637.9,926.3 L636.2,1004.8 L471.0,936.1 Z" fill="#fff" stroke="#1a1a1a" stroke-width="1.4949999999999999" />
<path d="M587.2,902 L627,916.5 L633,922.5 M587.2,908.3 L590,905" fill="none" stroke="#1a1a1a" stroke-width="1.265" />
<path d="M627,916.5 L628,920.5" fill="none" stroke="#1a1a1a" stroke-width="1.15" />
<circle cx="479.2" cy="913.2" r="1.9" fill="none" stroke="#1a1a1a" stroke-width="1.265"/>
<circle cx="613.3" cy="954.1" r="2.8" fill="none" stroke="#1a1a1a" stroke-width="1.38"/>
<circle cx="613.6" cy="954.3" r="1.2" fill="none" stroke="#1a1a1a" stroke-width="1.035"/>
<circle cx="630.7" cy="960" r="1.8" fill="none" stroke="#1a1a1a" stroke-width="1.265"/>
<line x1="638.5" y1="934" x2="638.5" y2="990" stroke="#1a1a1a" stroke-width="0.9" stroke-dasharray="4 9 12 7"/>
<text x="670.6" y="861" text-anchor="middle" font-size="20" font-weight="bold" fill="#fff" transform="translate(670.6,0) scale(0.8,1) translate(-670.6,0)">1</text>
<text x="515.9" y="506.6" text-anchor="middle" font-size="13" font-weight="bold" fill="#fff">1</text>
<path d="M674.6,881.9 L706.0,860.9 L720.4,860.3 L740.0,870.1 L751.2,880.6 L751.8,902.8 L751.2,940.8 L720.4,959.7 L719.5,964.0 L705.4,967.6 L700.0,966.0 L697.0,955.0 L678.6,953.8 L674.6,951.2 L671.4,939.5 L672.0,921.1 L679.2,917.2 L679.2,896.3 L674.6,895.0 Z" fill="#fff" stroke="#1a1a1a" stroke-width="1.7249999999999999" />
<path d="M674.6,881.9 L693,883.2 L707.3,889.7 L707.3,929 L678.6,951.2" fill="none" stroke="#1a1a1a" stroke-width="1.4949999999999999" />
<path d="M693,883.2 L720.4,860.3" fill="none" stroke="#1a1a1a" stroke-width="1.38" />
<path d="M707.3,889.7 L740,870.1" fill="none" stroke="#1a1a1a" stroke-width="1.38" />
<path d="M711.5,894.5 L746,874.5 M723,897.5 L747,883" fill="none" stroke="#1a1a1a" stroke-width="1.265" />
<path d="M707.3,889.7 L720.4,897.5 L720.4,910.5 L726.3,913.3 L726.3,934.3 L707.3,929" fill="none" stroke="#1a1a1a" stroke-width="1.4949999999999999" />
<path d="M726.3,934.3 L720.4,959.7" fill="none" stroke="#1a1a1a" stroke-width="1.15" />
<path d="M726.3,940 L751,925" fill="none" stroke="#1a1a1a" stroke-width="1.15" />
<path d="M678.6,953.8 L694.3,943.4 L697,955 L719,939.5 L721,948" fill="none" stroke="#1a1a1a" stroke-width="1.4949999999999999" />
<path d="M700,953 L712,947 M705.4,967.6 L718,958.5 M712.5,952.5 l5,1 M711,957.5 l6,0.5" fill="none" stroke="#1a1a1a" stroke-width="1.4949999999999999" />
<path d="M732,915 L753,902.5 L755.8,904.5 L755.8,907.5 L734,919.5 Z" fill="#fff" stroke="#1a1a1a" stroke-width="1.4949999999999999" />
<path d="M733,917 L754.5,905" fill="none" stroke="#1a1a1a" stroke-width="1.15" />
<path d="M732,928.5 L753,916.5 L755.8,918.5 L755.8,921.5 L734,933 Z" fill="#fff" stroke="#1a1a1a" stroke-width="1.4949999999999999" />
<path d="M733,930.5 L754.5,918.5" fill="none" stroke="#1a1a1a" stroke-width="1.15" />
<circle cx="755.3" cy="903.5" r="1.4" fill="#1a1a1a"/>
<path d="M759.6,884.5 L785,863 Q788.5,860.5 793,862.5 L835,879.5 Q842.5,883 838,888.5 L816,908 L812.5,902.5 L832.5,885 L791,868.5 Q788,867.5 786,869.5 L766.5,890.5 L760,890.5 Z" fill="#fff" stroke="#1a1a1a" stroke-width="1.4949999999999999" />
<path d="M766,884.5 L766.5,890.5 M759.6,884.5 L766,884.5 L787,865" fill="none" stroke="#1a1a1a" stroke-width="1.15" />
<path d="M812.5,902.5 L811,906 L816,908" fill="none" stroke="#1a1a1a" stroke-width="1.15" />
<path d="M798.9,933.7 L818.5,918.0 L837.5,927.2 L837.5,937.0 L835.5,939.0 L837.5,941.0 L837.5,949.5 L818.5,963.8 L797.6,956.0 Z" fill="#fff" stroke="#1a1a1a" stroke-width="1.6099999999999999" />
<path d="M798.9,933.7 L818.5,940.3 L837.5,927.2 M818.5,940.3 L818.5,963.8" fill="none" stroke="#1a1a1a" stroke-width="1.4949999999999999" />
<path d="M799,941 L817,947 Q819.5,949 817,951 L799,946 M799,950.5 L816,956 Q818,958 816,960" fill="none" stroke="#1a1a1a" stroke-width="1.38" />
<path d="M798.5,934 Q789,926.5 786,935 Q782,946 795,952.5 L798,950" fill="#fff" stroke="#1a1a1a" stroke-width="1.4949999999999999" />
<path d="M791,935.5 Q793,933 796.5,935 L797.5,939.5 Q795,941.5 791.5,940 Z" fill="#fff" stroke="#1a1a1a" stroke-width="1.38" />
<circle cx="784.5" cy="934.4" r="1.8" fill="#fff" stroke="#1a1a1a" stroke-width="1.265"/>
<path d="M803.5,930 L804.5,922 L808.5,916 L810.5,917.5 L811,922 L814,921" fill="none" stroke="#1a1a1a" stroke-width="1.38" />
<path d="M797,928.5 L804,925.5" fill="none" stroke="#1a1a1a" stroke-width="1.265" />
<ellipse cx="762.8" cy="957.2" rx="6.8" ry="3.4" fill="none" stroke="#1a1a1a" stroke-width="2.53" transform="rotate(8 762.8 957.2)"/>
<path d="M769.5,959 L781,970 Q786,974.5 790,975.5" fill="none" stroke="#1a1a1a" stroke-width="2.53" />
<path d="M765,960.5 Q775,968 771.5,977.5 Q766.5,985.5 755,982" fill="none" stroke="#1a1a1a" stroke-width="2.53" />
<ellipse cx="747.5" cy="972.3" rx="4.8" ry="3.0" fill="none" stroke="#1a1a1a" stroke-width="2.53" transform="rotate(35 747.5 972.3)"/>
<path d="M751,975.5 L768.5,996 L773.5,998.5" fill="none" stroke="#1a1a1a" stroke-width="2.53" />
<circle cx="796.5" cy="1021.5" r="0.9" fill="#1a1a1a"/>
<path d="M659,983 L664.5,981.5 L671.5,987 L679,992.5 L685,993.5 L685.5,996 L678,996.5 L670,991.5 L662.5,986.5 Z" fill="#fff" stroke="#1a1a1a" stroke-width="1.38" />
<path d="M669,985.5 l-2,3 M677,991.5 l-1.5,3.5" fill="none" stroke="#1a1a1a" stroke-width="1.15" />
<path d="M685.5,994 Q694,982.5 705,981.5 Q712,982.5 715,988" fill="none" stroke="#1a1a1a" stroke-width="1.265" />
<ellipse cx="727.5" cy="997.5" rx="11.2" ry="12.6" fill="#fff" stroke="#1a1a1a" stroke-width="1.4949999999999999"/>
<ellipse cx="722.8" cy="998" rx="12.6" ry="12.4" fill="#fff" stroke="#1a1a1a" stroke-width="1.8399999999999999"/>
<path d="M711.5,1004 Q722,1013.5 733,1005" fill="none" stroke="#1a1a1a" stroke-width="2.3" />
<path d="M699.5,999.5 Q697.5,1003.5 701.5,1005 L710,1002 L711,1006 L715,1004 L714.5,995.5 L709.5,994.5 L708.5,998 Z" fill="#fff" stroke="#1a1a1a" stroke-width="1.4949999999999999" />
<path d="M716,993 Q721,988.5 726,992 Q730,997 726.5,1003 Q722,1006.5 717,1003.5" fill="none" stroke="#1a1a1a" stroke-width="1.4949999999999999" />
<path d="M718,996 l5,3.5 M723,994 l-3,7 M725,999.5 l-4,0.5" fill="none" stroke="#1a1a1a" stroke-width="1.6099999999999999" />
</g>
</svg>
</body></html>
